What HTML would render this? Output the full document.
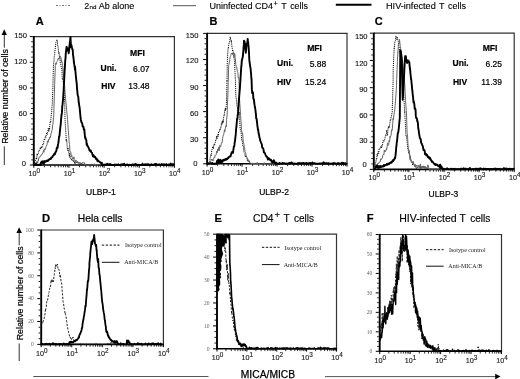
<!DOCTYPE html>
<html><head><meta charset="utf-8"><style>
html,body{margin:0;padding:0;background:#fff;}
svg{display:block;will-change:transform;filter:blur(0.3px);}
text{-webkit-font-smoothing:antialiased;}
</style></head><body>
<svg width="520" height="379" viewBox="0 0 520 379">
<rect width="520" height="379" fill="#fff"/>
<line x1="56.00" y1="5.50" x2="70.00" y2="5.50" stroke="#777" stroke-width="1" stroke-dasharray="2,1.5,1,1.5"/>
<text x="84.2" y="8.8" font-family="Liberation Sans" font-size="9" fill="#000" stroke="#000" stroke-width="0.12">2<tspan font-size="6.2" dx="0.4">nd</tspan></text>
<text x="98.80" y="8.80" font-family="Liberation Sans" font-size="9" font-weight="normal" text-anchor="start" fill="#000" stroke="#000" stroke-width="0.12" >Ab alone</text>
<line x1="173.00" y1="5.70" x2="196.00" y2="5.70" stroke="#555" stroke-width="1" />
<text x="209.5" y="8.8" font-family="Liberation Sans" font-size="9" fill="#000" stroke="#000" stroke-width="0.12">Uninfected CD4<tspan font-size="7.5" dy="-2.5" dx="0.5">+</tspan></text>
<text x="281.30" y="8.80" font-family="Liberation Sans" font-size="9" font-weight="normal" text-anchor="start" fill="#000" stroke="#000" stroke-width="0.12" >T</text>
<text x="290.20" y="8.80" font-family="Liberation Sans" font-size="8.8" font-weight="normal" text-anchor="start" fill="#000" stroke="#000" stroke-width="0.12" >cells</text>
<line x1="335.80" y1="4.80" x2="371.50" y2="4.80" stroke="#000" stroke-width="2" />
<text x="386.00" y="8.60" font-family="Liberation Sans" font-size="9.15" font-weight="normal" text-anchor="start" fill="#000" stroke="#000" stroke-width="0.12" >HIV-infected</text>
<text x="439.00" y="8.60" font-family="Liberation Sans" font-size="9" font-weight="normal" text-anchor="start" fill="#000" stroke="#000" stroke-width="0.12" >T</text>
<text x="448.00" y="8.60" font-family="Liberation Sans" font-size="9" font-weight="normal" text-anchor="start" fill="#000" stroke="#000" stroke-width="0.12" >cells</text>
<text x="35.80" y="24.70" font-family="Liberation Sans" font-size="11" font-weight="bold" text-anchor="start" fill="#000" stroke="#000" stroke-width="0.2" >A</text>
<text x="209.40" y="24.80" font-family="Liberation Sans" font-size="11" font-weight="bold" text-anchor="start" fill="#000" stroke="#000" stroke-width="0.2" >B</text>
<text x="374.80" y="25.20" font-family="Liberation Sans" font-size="11" font-weight="bold" text-anchor="start" fill="#000" stroke="#000" stroke-width="0.2" >C</text>
<line x1="33.80" y1="36.60" x2="175.00" y2="36.60" stroke="#333" stroke-width="1.2" />
<line x1="174.40" y1="36.60" x2="174.40" y2="165.00" stroke="#333" stroke-width="1.2" />
<line x1="33.80" y1="36.00" x2="33.80" y2="165.80" stroke="#000" stroke-width="1.9" />
<line x1="32.85" y1="165.00" x2="175.00" y2="165.00" stroke="#000" stroke-width="1.6" />
<line x1="29.85" y1="165.00" x2="32.85" y2="165.00" stroke="#000" stroke-width="1" />
<line x1="31.25" y1="159.86" x2="32.85" y2="159.86" stroke="#000" stroke-width="0.9" />
<line x1="31.25" y1="154.73" x2="32.85" y2="154.73" stroke="#000" stroke-width="0.9" />
<line x1="31.25" y1="149.59" x2="32.85" y2="149.59" stroke="#000" stroke-width="0.9" />
<line x1="31.25" y1="144.46" x2="32.85" y2="144.46" stroke="#000" stroke-width="0.9" />
<line x1="29.85" y1="139.32" x2="32.85" y2="139.32" stroke="#000" stroke-width="1" />
<line x1="31.25" y1="134.18" x2="32.85" y2="134.18" stroke="#000" stroke-width="0.9" />
<line x1="31.25" y1="129.05" x2="32.85" y2="129.05" stroke="#000" stroke-width="0.9" />
<line x1="31.25" y1="123.91" x2="32.85" y2="123.91" stroke="#000" stroke-width="0.9" />
<line x1="31.25" y1="118.78" x2="32.85" y2="118.78" stroke="#000" stroke-width="0.9" />
<line x1="29.85" y1="113.64" x2="32.85" y2="113.64" stroke="#000" stroke-width="1" />
<line x1="31.25" y1="108.50" x2="32.85" y2="108.50" stroke="#000" stroke-width="0.9" />
<line x1="31.25" y1="103.37" x2="32.85" y2="103.37" stroke="#000" stroke-width="0.9" />
<line x1="31.25" y1="98.23" x2="32.85" y2="98.23" stroke="#000" stroke-width="0.9" />
<line x1="31.25" y1="93.10" x2="32.85" y2="93.10" stroke="#000" stroke-width="0.9" />
<line x1="29.85" y1="87.96" x2="32.85" y2="87.96" stroke="#000" stroke-width="1" />
<line x1="31.25" y1="82.82" x2="32.85" y2="82.82" stroke="#000" stroke-width="0.9" />
<line x1="31.25" y1="77.69" x2="32.85" y2="77.69" stroke="#000" stroke-width="0.9" />
<line x1="31.25" y1="72.55" x2="32.85" y2="72.55" stroke="#000" stroke-width="0.9" />
<line x1="31.25" y1="67.42" x2="32.85" y2="67.42" stroke="#000" stroke-width="0.9" />
<line x1="29.85" y1="62.28" x2="32.85" y2="62.28" stroke="#000" stroke-width="1" />
<line x1="31.25" y1="57.14" x2="32.85" y2="57.14" stroke="#000" stroke-width="0.9" />
<line x1="31.25" y1="52.01" x2="32.85" y2="52.01" stroke="#000" stroke-width="0.9" />
<line x1="31.25" y1="46.87" x2="32.85" y2="46.87" stroke="#000" stroke-width="0.9" />
<line x1="31.25" y1="41.74" x2="32.85" y2="41.74" stroke="#000" stroke-width="0.9" />
<line x1="29.85" y1="36.60" x2="32.85" y2="36.60" stroke="#000" stroke-width="1" />
<text x="27.00" y="37.65" font-family="Liberation Sans" font-size="7.6" font-weight="normal" text-anchor="end" fill="#111" stroke="#111" stroke-width="0.12" >150</text>
<text x="27.00" y="63.95" font-family="Liberation Sans" font-size="7.6" font-weight="normal" text-anchor="end" fill="#111" stroke="#111" stroke-width="0.12" >120</text>
<text x="27.00" y="90.35" font-family="Liberation Sans" font-size="7.6" font-weight="normal" text-anchor="end" fill="#111" stroke="#111" stroke-width="0.12" >90</text>
<text x="27.00" y="116.05" font-family="Liberation Sans" font-size="7.6" font-weight="normal" text-anchor="end" fill="#111" stroke="#111" stroke-width="0.12" >60</text>
<text x="27.00" y="140.95" font-family="Liberation Sans" font-size="7.6" font-weight="normal" text-anchor="end" fill="#111" stroke="#111" stroke-width="0.12" >30</text>
<text x="26.10" y="166.35" font-family="Liberation Sans" font-size="7.6" font-weight="normal" text-anchor="end" fill="#111" stroke="#111" stroke-width="0.12" >0</text>
<line x1="33.80" y1="165.30" x2="33.80" y2="167.80" stroke="#000" stroke-width="1" />
<line x1="44.38" y1="165.30" x2="44.38" y2="167.30" stroke="#000" stroke-width="0.8" />
<line x1="50.57" y1="165.30" x2="50.57" y2="167.30" stroke="#000" stroke-width="0.8" />
<line x1="54.96" y1="165.30" x2="54.96" y2="167.30" stroke="#000" stroke-width="0.8" />
<line x1="58.37" y1="165.30" x2="58.37" y2="167.30" stroke="#000" stroke-width="0.8" />
<line x1="61.15" y1="165.30" x2="61.15" y2="167.30" stroke="#000" stroke-width="0.8" />
<line x1="63.51" y1="165.30" x2="63.51" y2="167.30" stroke="#000" stroke-width="0.8" />
<line x1="65.54" y1="165.30" x2="65.54" y2="167.30" stroke="#000" stroke-width="0.8" />
<line x1="67.34" y1="165.30" x2="67.34" y2="167.30" stroke="#000" stroke-width="0.8" />
<text x="34.30" y="175.90" font-family="Liberation Sans" font-size="7.2" text-anchor="middle" fill="#222" stroke="#222" stroke-width="0.15">10<tspan font-size="6.4" dy="-2.7">0</tspan></text>
<line x1="68.95" y1="165.30" x2="68.95" y2="167.80" stroke="#000" stroke-width="1" />
<line x1="79.53" y1="165.30" x2="79.53" y2="167.30" stroke="#000" stroke-width="0.8" />
<line x1="85.72" y1="165.30" x2="85.72" y2="167.30" stroke="#000" stroke-width="0.8" />
<line x1="90.11" y1="165.30" x2="90.11" y2="167.30" stroke="#000" stroke-width="0.8" />
<line x1="93.52" y1="165.30" x2="93.52" y2="167.30" stroke="#000" stroke-width="0.8" />
<line x1="96.30" y1="165.30" x2="96.30" y2="167.30" stroke="#000" stroke-width="0.8" />
<line x1="98.66" y1="165.30" x2="98.66" y2="167.30" stroke="#000" stroke-width="0.8" />
<line x1="100.69" y1="165.30" x2="100.69" y2="167.30" stroke="#000" stroke-width="0.8" />
<line x1="102.49" y1="165.30" x2="102.49" y2="167.30" stroke="#000" stroke-width="0.8" />
<text x="69.45" y="175.90" font-family="Liberation Sans" font-size="7.2" text-anchor="middle" fill="#222" stroke="#222" stroke-width="0.15">10<tspan font-size="6.4" dy="-2.7">1</tspan></text>
<line x1="104.10" y1="165.30" x2="104.10" y2="167.80" stroke="#000" stroke-width="1" />
<line x1="114.68" y1="165.30" x2="114.68" y2="167.30" stroke="#000" stroke-width="0.8" />
<line x1="120.87" y1="165.30" x2="120.87" y2="167.30" stroke="#000" stroke-width="0.8" />
<line x1="125.26" y1="165.30" x2="125.26" y2="167.30" stroke="#000" stroke-width="0.8" />
<line x1="128.67" y1="165.30" x2="128.67" y2="167.30" stroke="#000" stroke-width="0.8" />
<line x1="131.45" y1="165.30" x2="131.45" y2="167.30" stroke="#000" stroke-width="0.8" />
<line x1="133.81" y1="165.30" x2="133.81" y2="167.30" stroke="#000" stroke-width="0.8" />
<line x1="135.84" y1="165.30" x2="135.84" y2="167.30" stroke="#000" stroke-width="0.8" />
<line x1="137.64" y1="165.30" x2="137.64" y2="167.30" stroke="#000" stroke-width="0.8" />
<text x="104.60" y="175.90" font-family="Liberation Sans" font-size="7.2" text-anchor="middle" fill="#222" stroke="#222" stroke-width="0.15">10<tspan font-size="6.4" dy="-2.7">2</tspan></text>
<line x1="139.25" y1="165.30" x2="139.25" y2="167.80" stroke="#000" stroke-width="1" />
<line x1="149.83" y1="165.30" x2="149.83" y2="167.30" stroke="#000" stroke-width="0.8" />
<line x1="156.02" y1="165.30" x2="156.02" y2="167.30" stroke="#000" stroke-width="0.8" />
<line x1="160.41" y1="165.30" x2="160.41" y2="167.30" stroke="#000" stroke-width="0.8" />
<line x1="163.82" y1="165.30" x2="163.82" y2="167.30" stroke="#000" stroke-width="0.8" />
<line x1="166.60" y1="165.30" x2="166.60" y2="167.30" stroke="#000" stroke-width="0.8" />
<line x1="168.96" y1="165.30" x2="168.96" y2="167.30" stroke="#000" stroke-width="0.8" />
<line x1="170.99" y1="165.30" x2="170.99" y2="167.30" stroke="#000" stroke-width="0.8" />
<line x1="172.79" y1="165.30" x2="172.79" y2="167.30" stroke="#000" stroke-width="0.8" />
<text x="139.75" y="175.90" font-family="Liberation Sans" font-size="7.2" text-anchor="middle" fill="#222" stroke="#222" stroke-width="0.15">10<tspan font-size="6.4" dy="-2.7">3</tspan></text>
<line x1="174.40" y1="165.30" x2="174.40" y2="167.80" stroke="#000" stroke-width="1" />
<text x="174.90" y="175.90" font-family="Liberation Sans" font-size="7.2" text-anchor="middle" fill="#222" stroke="#222" stroke-width="0.15">10<tspan font-size="6.4" dy="-2.7">4</tspan></text>
<line x1="207.10" y1="33.40" x2="347.60" y2="33.40" stroke="#333" stroke-width="1.2" />
<line x1="347.00" y1="33.40" x2="347.00" y2="163.80" stroke="#333" stroke-width="1.2" />
<line x1="207.10" y1="32.80" x2="207.10" y2="164.60" stroke="#000" stroke-width="1.9" />
<line x1="206.15" y1="163.80" x2="347.60" y2="163.80" stroke="#000" stroke-width="1.6" />
<line x1="203.15" y1="163.80" x2="206.15" y2="163.80" stroke="#000" stroke-width="1" />
<line x1="204.55" y1="158.58" x2="206.15" y2="158.58" stroke="#000" stroke-width="0.9" />
<line x1="204.55" y1="153.37" x2="206.15" y2="153.37" stroke="#000" stroke-width="0.9" />
<line x1="204.55" y1="148.15" x2="206.15" y2="148.15" stroke="#000" stroke-width="0.9" />
<line x1="204.55" y1="142.94" x2="206.15" y2="142.94" stroke="#000" stroke-width="0.9" />
<line x1="203.15" y1="137.72" x2="206.15" y2="137.72" stroke="#000" stroke-width="1" />
<line x1="204.55" y1="132.50" x2="206.15" y2="132.50" stroke="#000" stroke-width="0.9" />
<line x1="204.55" y1="127.29" x2="206.15" y2="127.29" stroke="#000" stroke-width="0.9" />
<line x1="204.55" y1="122.07" x2="206.15" y2="122.07" stroke="#000" stroke-width="0.9" />
<line x1="204.55" y1="116.86" x2="206.15" y2="116.86" stroke="#000" stroke-width="0.9" />
<line x1="203.15" y1="111.64" x2="206.15" y2="111.64" stroke="#000" stroke-width="1" />
<line x1="204.55" y1="106.42" x2="206.15" y2="106.42" stroke="#000" stroke-width="0.9" />
<line x1="204.55" y1="101.21" x2="206.15" y2="101.21" stroke="#000" stroke-width="0.9" />
<line x1="204.55" y1="95.99" x2="206.15" y2="95.99" stroke="#000" stroke-width="0.9" />
<line x1="204.55" y1="90.78" x2="206.15" y2="90.78" stroke="#000" stroke-width="0.9" />
<line x1="203.15" y1="85.56" x2="206.15" y2="85.56" stroke="#000" stroke-width="1" />
<line x1="204.55" y1="80.34" x2="206.15" y2="80.34" stroke="#000" stroke-width="0.9" />
<line x1="204.55" y1="75.13" x2="206.15" y2="75.13" stroke="#000" stroke-width="0.9" />
<line x1="204.55" y1="69.91" x2="206.15" y2="69.91" stroke="#000" stroke-width="0.9" />
<line x1="204.55" y1="64.70" x2="206.15" y2="64.70" stroke="#000" stroke-width="0.9" />
<line x1="203.15" y1="59.48" x2="206.15" y2="59.48" stroke="#000" stroke-width="1" />
<line x1="204.55" y1="54.26" x2="206.15" y2="54.26" stroke="#000" stroke-width="0.9" />
<line x1="204.55" y1="49.05" x2="206.15" y2="49.05" stroke="#000" stroke-width="0.9" />
<line x1="204.55" y1="43.83" x2="206.15" y2="43.83" stroke="#000" stroke-width="0.9" />
<line x1="204.55" y1="38.62" x2="206.15" y2="38.62" stroke="#000" stroke-width="0.9" />
<line x1="203.15" y1="33.40" x2="206.15" y2="33.40" stroke="#000" stroke-width="1" />
<text x="198.50" y="37.95" font-family="Liberation Sans" font-size="7.6" font-weight="normal" text-anchor="end" fill="#111" stroke="#111" stroke-width="0.12" >150</text>
<text x="198.50" y="63.25" font-family="Liberation Sans" font-size="7.6" font-weight="normal" text-anchor="end" fill="#111" stroke="#111" stroke-width="0.12" >120</text>
<text x="198.50" y="90.05" font-family="Liberation Sans" font-size="7.6" font-weight="normal" text-anchor="end" fill="#111" stroke="#111" stroke-width="0.12" >90</text>
<text x="198.50" y="116.35" font-family="Liberation Sans" font-size="7.6" font-weight="normal" text-anchor="end" fill="#111" stroke="#111" stroke-width="0.12" >60</text>
<text x="198.50" y="142.05" font-family="Liberation Sans" font-size="7.6" font-weight="normal" text-anchor="end" fill="#111" stroke="#111" stroke-width="0.12" >30</text>
<text x="197.60" y="166.35" font-family="Liberation Sans" font-size="7.6" font-weight="normal" text-anchor="end" fill="#111" stroke="#111" stroke-width="0.12" >0</text>
<line x1="207.10" y1="164.10" x2="207.10" y2="166.60" stroke="#000" stroke-width="1" />
<line x1="217.63" y1="164.10" x2="217.63" y2="166.10" stroke="#000" stroke-width="0.8" />
<line x1="223.79" y1="164.10" x2="223.79" y2="166.10" stroke="#000" stroke-width="0.8" />
<line x1="228.16" y1="164.10" x2="228.16" y2="166.10" stroke="#000" stroke-width="0.8" />
<line x1="231.55" y1="164.10" x2="231.55" y2="166.10" stroke="#000" stroke-width="0.8" />
<line x1="234.32" y1="164.10" x2="234.32" y2="166.10" stroke="#000" stroke-width="0.8" />
<line x1="236.66" y1="164.10" x2="236.66" y2="166.10" stroke="#000" stroke-width="0.8" />
<line x1="238.69" y1="164.10" x2="238.69" y2="166.10" stroke="#000" stroke-width="0.8" />
<line x1="240.47" y1="164.10" x2="240.47" y2="166.10" stroke="#000" stroke-width="0.8" />
<text x="207.60" y="175.00" font-family="Liberation Sans" font-size="7.2" text-anchor="middle" fill="#222" stroke="#222" stroke-width="0.15">10<tspan font-size="6.4" dy="-2.7">0</tspan></text>
<line x1="242.07" y1="164.10" x2="242.07" y2="166.60" stroke="#000" stroke-width="1" />
<line x1="252.60" y1="164.10" x2="252.60" y2="166.10" stroke="#000" stroke-width="0.8" />
<line x1="258.76" y1="164.10" x2="258.76" y2="166.10" stroke="#000" stroke-width="0.8" />
<line x1="263.13" y1="164.10" x2="263.13" y2="166.10" stroke="#000" stroke-width="0.8" />
<line x1="266.52" y1="164.10" x2="266.52" y2="166.10" stroke="#000" stroke-width="0.8" />
<line x1="269.29" y1="164.10" x2="269.29" y2="166.10" stroke="#000" stroke-width="0.8" />
<line x1="271.63" y1="164.10" x2="271.63" y2="166.10" stroke="#000" stroke-width="0.8" />
<line x1="273.66" y1="164.10" x2="273.66" y2="166.10" stroke="#000" stroke-width="0.8" />
<line x1="275.45" y1="164.10" x2="275.45" y2="166.10" stroke="#000" stroke-width="0.8" />
<text x="242.57" y="175.00" font-family="Liberation Sans" font-size="7.2" text-anchor="middle" fill="#222" stroke="#222" stroke-width="0.15">10<tspan font-size="6.4" dy="-2.7">1</tspan></text>
<line x1="277.05" y1="164.10" x2="277.05" y2="166.60" stroke="#000" stroke-width="1" />
<line x1="287.58" y1="164.10" x2="287.58" y2="166.10" stroke="#000" stroke-width="0.8" />
<line x1="293.74" y1="164.10" x2="293.74" y2="166.10" stroke="#000" stroke-width="0.8" />
<line x1="298.11" y1="164.10" x2="298.11" y2="166.10" stroke="#000" stroke-width="0.8" />
<line x1="301.50" y1="164.10" x2="301.50" y2="166.10" stroke="#000" stroke-width="0.8" />
<line x1="304.27" y1="164.10" x2="304.27" y2="166.10" stroke="#000" stroke-width="0.8" />
<line x1="306.61" y1="164.10" x2="306.61" y2="166.10" stroke="#000" stroke-width="0.8" />
<line x1="308.64" y1="164.10" x2="308.64" y2="166.10" stroke="#000" stroke-width="0.8" />
<line x1="310.42" y1="164.10" x2="310.42" y2="166.10" stroke="#000" stroke-width="0.8" />
<text x="277.55" y="175.00" font-family="Liberation Sans" font-size="7.2" text-anchor="middle" fill="#222" stroke="#222" stroke-width="0.15">10<tspan font-size="6.4" dy="-2.7">2</tspan></text>
<line x1="312.02" y1="164.10" x2="312.02" y2="166.60" stroke="#000" stroke-width="1" />
<line x1="322.55" y1="164.10" x2="322.55" y2="166.10" stroke="#000" stroke-width="0.8" />
<line x1="328.71" y1="164.10" x2="328.71" y2="166.10" stroke="#000" stroke-width="0.8" />
<line x1="333.08" y1="164.10" x2="333.08" y2="166.10" stroke="#000" stroke-width="0.8" />
<line x1="336.47" y1="164.10" x2="336.47" y2="166.10" stroke="#000" stroke-width="0.8" />
<line x1="339.24" y1="164.10" x2="339.24" y2="166.10" stroke="#000" stroke-width="0.8" />
<line x1="341.58" y1="164.10" x2="341.58" y2="166.10" stroke="#000" stroke-width="0.8" />
<line x1="343.61" y1="164.10" x2="343.61" y2="166.10" stroke="#000" stroke-width="0.8" />
<line x1="345.40" y1="164.10" x2="345.40" y2="166.10" stroke="#000" stroke-width="0.8" />
<text x="312.52" y="175.00" font-family="Liberation Sans" font-size="7.2" text-anchor="middle" fill="#222" stroke="#222" stroke-width="0.15">10<tspan font-size="6.4" dy="-2.7">3</tspan></text>
<line x1="347.00" y1="164.10" x2="347.00" y2="166.60" stroke="#000" stroke-width="1" />
<text x="347.50" y="175.00" font-family="Liberation Sans" font-size="7.2" text-anchor="middle" fill="#222" stroke="#222" stroke-width="0.15">10<tspan font-size="6.4" dy="-2.7">4</tspan></text>
<line x1="373.80" y1="33.20" x2="514.80" y2="33.20" stroke="#333" stroke-width="1.2" />
<line x1="514.20" y1="33.20" x2="514.20" y2="169.40" stroke="#333" stroke-width="1.2" />
<line x1="373.80" y1="32.60" x2="373.80" y2="170.20" stroke="#000" stroke-width="1.9" />
<line x1="372.85" y1="169.40" x2="514.80" y2="169.40" stroke="#000" stroke-width="1.6" />
<line x1="369.85" y1="169.40" x2="372.85" y2="169.40" stroke="#000" stroke-width="1" />
<line x1="371.25" y1="163.95" x2="372.85" y2="163.95" stroke="#000" stroke-width="0.9" />
<line x1="371.25" y1="158.50" x2="372.85" y2="158.50" stroke="#000" stroke-width="0.9" />
<line x1="371.25" y1="153.06" x2="372.85" y2="153.06" stroke="#000" stroke-width="0.9" />
<line x1="371.25" y1="147.61" x2="372.85" y2="147.61" stroke="#000" stroke-width="0.9" />
<line x1="369.85" y1="142.16" x2="372.85" y2="142.16" stroke="#000" stroke-width="1" />
<line x1="371.25" y1="136.71" x2="372.85" y2="136.71" stroke="#000" stroke-width="0.9" />
<line x1="371.25" y1="131.26" x2="372.85" y2="131.26" stroke="#000" stroke-width="0.9" />
<line x1="371.25" y1="125.82" x2="372.85" y2="125.82" stroke="#000" stroke-width="0.9" />
<line x1="371.25" y1="120.37" x2="372.85" y2="120.37" stroke="#000" stroke-width="0.9" />
<line x1="369.85" y1="114.92" x2="372.85" y2="114.92" stroke="#000" stroke-width="1" />
<line x1="371.25" y1="109.47" x2="372.85" y2="109.47" stroke="#000" stroke-width="0.9" />
<line x1="371.25" y1="104.02" x2="372.85" y2="104.02" stroke="#000" stroke-width="0.9" />
<line x1="371.25" y1="98.58" x2="372.85" y2="98.58" stroke="#000" stroke-width="0.9" />
<line x1="371.25" y1="93.13" x2="372.85" y2="93.13" stroke="#000" stroke-width="0.9" />
<line x1="369.85" y1="87.68" x2="372.85" y2="87.68" stroke="#000" stroke-width="1" />
<line x1="371.25" y1="82.23" x2="372.85" y2="82.23" stroke="#000" stroke-width="0.9" />
<line x1="371.25" y1="76.78" x2="372.85" y2="76.78" stroke="#000" stroke-width="0.9" />
<line x1="371.25" y1="71.34" x2="372.85" y2="71.34" stroke="#000" stroke-width="0.9" />
<line x1="371.25" y1="65.89" x2="372.85" y2="65.89" stroke="#000" stroke-width="0.9" />
<line x1="369.85" y1="60.44" x2="372.85" y2="60.44" stroke="#000" stroke-width="1" />
<line x1="371.25" y1="54.99" x2="372.85" y2="54.99" stroke="#000" stroke-width="0.9" />
<line x1="371.25" y1="49.54" x2="372.85" y2="49.54" stroke="#000" stroke-width="0.9" />
<line x1="371.25" y1="44.10" x2="372.85" y2="44.10" stroke="#000" stroke-width="0.9" />
<line x1="371.25" y1="38.65" x2="372.85" y2="38.65" stroke="#000" stroke-width="0.9" />
<line x1="369.85" y1="33.20" x2="372.85" y2="33.20" stroke="#000" stroke-width="1" />
<text x="367.60" y="39.25" font-family="Liberation Sans" font-size="7.6" font-weight="normal" text-anchor="end" fill="#111" stroke="#111" stroke-width="0.12" >150</text>
<text x="367.60" y="66.05" font-family="Liberation Sans" font-size="7.6" font-weight="normal" text-anchor="end" fill="#111" stroke="#111" stroke-width="0.12" >120</text>
<text x="367.60" y="91.55" font-family="Liberation Sans" font-size="7.6" font-weight="normal" text-anchor="end" fill="#111" stroke="#111" stroke-width="0.12" >90</text>
<text x="367.60" y="117.75" font-family="Liberation Sans" font-size="7.6" font-weight="normal" text-anchor="end" fill="#111" stroke="#111" stroke-width="0.12" >60</text>
<text x="367.60" y="143.15" font-family="Liberation Sans" font-size="7.6" font-weight="normal" text-anchor="end" fill="#111" stroke="#111" stroke-width="0.12" >30</text>
<text x="366.70" y="167.35" font-family="Liberation Sans" font-size="7.6" font-weight="normal" text-anchor="end" fill="#111" stroke="#111" stroke-width="0.12" >0</text>
<line x1="373.80" y1="169.70" x2="373.80" y2="172.20" stroke="#000" stroke-width="1" />
<line x1="384.37" y1="169.70" x2="384.37" y2="171.70" stroke="#000" stroke-width="0.8" />
<line x1="390.55" y1="169.70" x2="390.55" y2="171.70" stroke="#000" stroke-width="0.8" />
<line x1="394.93" y1="169.70" x2="394.93" y2="171.70" stroke="#000" stroke-width="0.8" />
<line x1="398.33" y1="169.70" x2="398.33" y2="171.70" stroke="#000" stroke-width="0.8" />
<line x1="401.11" y1="169.70" x2="401.11" y2="171.70" stroke="#000" stroke-width="0.8" />
<line x1="403.46" y1="169.70" x2="403.46" y2="171.70" stroke="#000" stroke-width="0.8" />
<line x1="405.50" y1="169.70" x2="405.50" y2="171.70" stroke="#000" stroke-width="0.8" />
<line x1="407.29" y1="169.70" x2="407.29" y2="171.70" stroke="#000" stroke-width="0.8" />
<text x="374.30" y="180.00" font-family="Liberation Sans" font-size="7.2" text-anchor="middle" fill="#222" stroke="#222" stroke-width="0.15">10<tspan font-size="6.4" dy="-2.7">0</tspan></text>
<line x1="408.90" y1="169.70" x2="408.90" y2="172.20" stroke="#000" stroke-width="1" />
<line x1="419.47" y1="169.70" x2="419.47" y2="171.70" stroke="#000" stroke-width="0.8" />
<line x1="425.65" y1="169.70" x2="425.65" y2="171.70" stroke="#000" stroke-width="0.8" />
<line x1="430.03" y1="169.70" x2="430.03" y2="171.70" stroke="#000" stroke-width="0.8" />
<line x1="433.43" y1="169.70" x2="433.43" y2="171.70" stroke="#000" stroke-width="0.8" />
<line x1="436.21" y1="169.70" x2="436.21" y2="171.70" stroke="#000" stroke-width="0.8" />
<line x1="438.56" y1="169.70" x2="438.56" y2="171.70" stroke="#000" stroke-width="0.8" />
<line x1="440.60" y1="169.70" x2="440.60" y2="171.70" stroke="#000" stroke-width="0.8" />
<line x1="442.39" y1="169.70" x2="442.39" y2="171.70" stroke="#000" stroke-width="0.8" />
<text x="409.40" y="180.00" font-family="Liberation Sans" font-size="7.2" text-anchor="middle" fill="#222" stroke="#222" stroke-width="0.15">10<tspan font-size="6.4" dy="-2.7">1</tspan></text>
<line x1="444.00" y1="169.70" x2="444.00" y2="172.20" stroke="#000" stroke-width="1" />
<line x1="454.57" y1="169.70" x2="454.57" y2="171.70" stroke="#000" stroke-width="0.8" />
<line x1="460.75" y1="169.70" x2="460.75" y2="171.70" stroke="#000" stroke-width="0.8" />
<line x1="465.13" y1="169.70" x2="465.13" y2="171.70" stroke="#000" stroke-width="0.8" />
<line x1="468.53" y1="169.70" x2="468.53" y2="171.70" stroke="#000" stroke-width="0.8" />
<line x1="471.31" y1="169.70" x2="471.31" y2="171.70" stroke="#000" stroke-width="0.8" />
<line x1="473.66" y1="169.70" x2="473.66" y2="171.70" stroke="#000" stroke-width="0.8" />
<line x1="475.70" y1="169.70" x2="475.70" y2="171.70" stroke="#000" stroke-width="0.8" />
<line x1="477.49" y1="169.70" x2="477.49" y2="171.70" stroke="#000" stroke-width="0.8" />
<text x="444.50" y="180.00" font-family="Liberation Sans" font-size="7.2" text-anchor="middle" fill="#222" stroke="#222" stroke-width="0.15">10<tspan font-size="6.4" dy="-2.7">2</tspan></text>
<line x1="479.10" y1="169.70" x2="479.10" y2="172.20" stroke="#000" stroke-width="1" />
<line x1="489.67" y1="169.70" x2="489.67" y2="171.70" stroke="#000" stroke-width="0.8" />
<line x1="495.85" y1="169.70" x2="495.85" y2="171.70" stroke="#000" stroke-width="0.8" />
<line x1="500.23" y1="169.70" x2="500.23" y2="171.70" stroke="#000" stroke-width="0.8" />
<line x1="503.63" y1="169.70" x2="503.63" y2="171.70" stroke="#000" stroke-width="0.8" />
<line x1="506.41" y1="169.70" x2="506.41" y2="171.70" stroke="#000" stroke-width="0.8" />
<line x1="508.76" y1="169.70" x2="508.76" y2="171.70" stroke="#000" stroke-width="0.8" />
<line x1="510.80" y1="169.70" x2="510.80" y2="171.70" stroke="#000" stroke-width="0.8" />
<line x1="512.59" y1="169.70" x2="512.59" y2="171.70" stroke="#000" stroke-width="0.8" />
<text x="479.60" y="180.00" font-family="Liberation Sans" font-size="7.2" text-anchor="middle" fill="#222" stroke="#222" stroke-width="0.15">10<tspan font-size="6.4" dy="-2.7">3</tspan></text>
<line x1="514.20" y1="169.70" x2="514.20" y2="172.20" stroke="#000" stroke-width="1" />
<text x="514.70" y="180.00" font-family="Liberation Sans" font-size="7.2" text-anchor="middle" fill="#222" stroke="#222" stroke-width="0.15">10<tspan font-size="6.4" dy="-2.7">4</tspan></text>
<text x="130.10" y="55.50" font-family="Liberation Sans" font-size="8.6" font-weight="bold" text-anchor="start" fill="#000" stroke="#000" stroke-width="0.2" >MFI</text>
<text x="100.50" y="70.90" font-family="Liberation Sans" font-size="8.5" font-weight="bold" text-anchor="start" fill="#000" stroke="#000" stroke-width="0.2" >Uni.</text>
<text x="149.60" y="71.70" font-family="Liberation Sans" font-size="8.5" font-weight="normal" text-anchor="end" fill="#000" stroke="#000" stroke-width="0.2" >6.07</text>
<text x="101.30" y="88.80" font-family="Liberation Sans" font-size="8.5" font-weight="bold" text-anchor="start" fill="#000" stroke="#000" stroke-width="0.2" >HIV</text>
<text x="149.60" y="88.80" font-family="Liberation Sans" font-size="8.5" font-weight="normal" text-anchor="end" fill="#000" stroke="#000" stroke-width="0.2" >13.48</text>
<text x="307.20" y="51.00" font-family="Liberation Sans" font-size="8.6" font-weight="bold" text-anchor="start" fill="#000" stroke="#000" stroke-width="0.2" >MFI</text>
<text x="277.10" y="66.40" font-family="Liberation Sans" font-size="8.5" font-weight="bold" text-anchor="start" fill="#000" stroke="#000" stroke-width="0.2" >Uni.</text>
<text x="326.20" y="67.10" font-family="Liberation Sans" font-size="8.5" font-weight="normal" text-anchor="end" fill="#000" stroke="#000" stroke-width="0.2" >5.88</text>
<text x="277.10" y="84.50" font-family="Liberation Sans" font-size="8.5" font-weight="bold" text-anchor="start" fill="#000" stroke="#000" stroke-width="0.2" >HIV</text>
<text x="326.20" y="84.50" font-family="Liberation Sans" font-size="8.5" font-weight="normal" text-anchor="end" fill="#000" stroke="#000" stroke-width="0.2" >15.24</text>
<text x="482.70" y="51.00" font-family="Liberation Sans" font-size="8.6" font-weight="bold" text-anchor="start" fill="#000" stroke="#000" stroke-width="0.2" >MFI</text>
<text x="452.60" y="66.40" font-family="Liberation Sans" font-size="8.5" font-weight="bold" text-anchor="start" fill="#000" stroke="#000" stroke-width="0.2" >Uni.</text>
<text x="502.00" y="67.10" font-family="Liberation Sans" font-size="8.5" font-weight="normal" text-anchor="end" fill="#000" stroke="#000" stroke-width="0.2" >6.25</text>
<text x="452.90" y="84.90" font-family="Liberation Sans" font-size="8.5" font-weight="bold" text-anchor="start" fill="#000" stroke="#000" stroke-width="0.2" >HIV</text>
<text x="502.00" y="84.90" font-family="Liberation Sans" font-size="8.5" font-weight="normal" text-anchor="end" fill="#000" stroke="#000" stroke-width="0.2" >11.39</text>
<text x="86.00" y="194.60" font-family="Liberation Sans" font-size="8.5" font-weight="normal" text-anchor="start" fill="#000" stroke="#000" stroke-width="0.2" >ULBP-1</text>
<text x="259.20" y="194.70" font-family="Liberation Sans" font-size="8.5" font-weight="normal" text-anchor="start" fill="#000" stroke="#000" stroke-width="0.2" >ULBP-2</text>
<text x="428.50" y="196.80" font-family="Liberation Sans" font-size="8.5" font-weight="normal" text-anchor="start" fill="#000" stroke="#000" stroke-width="0.2" >ULBP-3</text>
<g transform="translate(8.4,143.8) rotate(-90)"><text x="0" y="0" font-family="Liberation Sans" font-size="8.9" fill="#000" stroke="#000" stroke-width="0.2">Relative number of cells</text></g>
<line x1="4.30" y1="146.30" x2="4.30" y2="165.00" stroke="#333" stroke-width="1" />
<line x1="4.30" y1="35.00" x2="4.30" y2="47.70" stroke="#333" stroke-width="1" />
<polygon points="4.2,29.2 1.6,35 6.9,35" fill="#000"/>
<polyline points="33.5,165.0 33.9,164.2 34.3,162.0 34.7,163.0 35.1,162.2 35.2,162.0 35.5,160.3 35.9,159.7 36.3,157.5 36.7,159.4 37.1,153.9 37.3,155.3 37.5,154.0 37.9,154.1 38.3,153.6 38.7,151.5 39.1,150.1 39.5,150.6 39.9,149.6 40.3,147.5 40.7,148.9 41.1,149.0 41.1,146.5 41.5,146.9 41.9,148.1 42.3,145.6 42.7,144.2 43.1,144.6 43.5,144.3 43.9,141.0 44.3,138.7 44.7,139.8 44.9,139.4 45.1,137.9 45.5,136.3 45.9,137.2 46.3,134.7 46.7,132.8 47.1,134.2 47.5,134.3 47.6,132.4 47.9,131.2 48.3,128.3 48.7,131.6 49.1,129.1 49.3,127.7 49.5,129.7 49.9,124.1 50.3,121.3 50.7,122.0 50.8,119.4 51.1,116.2 51.5,112.9 51.7,111.8 51.9,107.2 52.3,103.6 52.4,99.7 52.7,91.6 52.8,90.8 53.1,78.0 53.4,67.1 53.5,64.7 53.9,61.8 54.0,60.0 54.3,56.5 54.7,54.3 54.8,51.7 55.1,49.8 55.5,45.9 55.7,45.2 55.9,42.5 56.3,41.4 56.7,40.7 56.8,39.7 57.1,40.1 57.5,41.8 57.6,45.7 57.9,45.7 58.3,49.0 58.5,51.0 58.7,53.4 59.1,52.2 59.5,57.7 59.8,57.2 59.9,56.2 60.3,63.1 60.7,64.1 60.9,65.6 61.1,66.3 61.5,67.7 61.9,70.2 62.3,78.9 62.5,78.2 62.7,78.6 63.1,80.5 63.5,85.4 63.9,90.3 64.0,89.9 64.3,95.6 64.7,103.4 64.8,105.3 65.0,119.8 65.1,120.8 65.5,127.5 65.9,133.6 66.3,141.2 66.3,139.3 66.7,140.1 67.1,145.5 67.5,150.4 67.6,148.4 67.9,149.2 68.3,148.4 68.7,152.6 69.1,154.7 69.5,157.3 69.5,154.9 69.9,153.0 70.3,158.0 70.7,158.6 71.1,158.0 71.5,160.4 71.9,160.6 72.0,160.6 72.3,160.5 72.7,159.7 73.1,161.1 73.5,160.4 73.9,162.0 74.3,161.5 74.7,164.1 75.1,163.6 75.5,161.7 75.9,163.2 76.3,162.4 76.5,162.9 76.7,161.8 77.1,162.3 77.5,162.1 77.9,163.2 78.3,163.7 78.7,163.8 79.1,163.6 79.5,164.2 79.9,163.7 80.3,163.3 80.7,164.8 81.1,165.0 81.5,165.0 81.9,165.0 82.3,164.9 82.7,164.3 83.1,164.7 83.5,165.0 83.9,165.0 84.3,163.8 84.7,164.5 85.1,163.9 85.5,163.7 85.9,165.0 86.3,164.8 86.7,164.7 87.1,164.7 87.5,164.7 87.9,164.9 88.3,164.9 88.7,165.0 89.1,165.0 89.5,165.0 89.9,164.9 90.0,165.0 90.3,164.6 90.7,164.5 91.1,164.8 91.5,164.8 91.9,164.9 92.3,165.0 92.7,165.0 93.1,165.0 93.5,164.8 93.9,165.0 94.3,164.7 94.7,165.0 95.1,164.5 95.5,165.0 95.9,165.0 96.3,165.0 96.7,165.0 97.1,164.8 97.5,165.0 97.9,165.0 98.3,165.0 98.7,164.2 99.1,165.0 99.5,165.0 99.9,165.0 100.3,165.0 100.7,163.9 101.1,165.0 101.5,164.7 101.9,164.7 102.3,165.0 102.7,164.8 103.1,164.4 103.5,164.7 103.9,164.8 104.0,164.8 104.3,164.9 104.7,164.8 105.1,165.0 105.5,164.6 105.9,165.0 106.3,164.5 106.7,165.0 107.1,165.0 107.5,164.8 107.9,164.0 108.3,164.4 108.7,165.0 109.1,164.6 109.5,165.0 109.9,165.0 110.3,164.9 110.7,165.0 111.1,164.9 111.5,165.0 111.9,165.0 112.3,165.0 112.7,165.0 113.1,165.0 113.5,164.5 113.9,164.0 114.3,165.0 114.7,164.3 115.1,165.0 115.5,165.0 115.9,164.9 116.3,164.7 116.7,165.0 117.1,164.8 117.5,164.7 117.9,165.0 118.3,165.0 118.7,165.0 119.1,165.0 119.5,165.0 119.9,164.4 120.3,164.0 120.7,165.0 121.1,164.6 121.5,164.4 121.9,164.6 122.3,164.4 122.7,165.0 123.1,164.6 123.5,163.8 123.9,164.5 124.3,165.0 124.7,164.6 125.1,164.2 125.5,164.8 125.9,165.0 126.3,164.1 126.7,165.0 127.1,164.7 127.5,165.0 127.9,165.0 128.3,164.3 128.7,164.8 129.1,165.0 129.5,164.6 129.9,165.0 130.3,165.0 130.7,165.0 131.1,164.8 131.5,164.6 131.9,164.9 132.3,165.0 132.7,164.7 133.1,165.0 133.5,164.3 133.9,164.9 134.3,164.8 134.7,164.7 135.1,165.0 135.5,165.0 135.9,164.1 136.3,164.8 136.7,165.0 137.1,164.8 137.5,165.0 137.9,164.8 138.3,165.0 138.7,164.8 139.1,165.0 139.5,164.2 139.9,165.0 140.3,165.0 140.7,165.0 141.1,165.0 141.5,164.9 141.9,165.0 142.3,164.8 142.7,162.8 143.1,165.0 143.5,164.8 143.9,165.0 144.3,164.9 144.7,165.0 145.1,165.0 145.5,164.7 145.9,165.0 146.3,164.0 146.7,165.0 147.1,164.9 147.5,163.3 147.9,165.0 148.3,165.0 148.7,165.0 149.1,165.0 149.5,164.5 149.9,164.9 150.3,165.0 150.7,164.9 151.1,163.4 151.5,164.2 151.9,165.0 152.3,165.0 152.7,165.0 153.1,164.6 153.5,165.0 153.9,163.8 154.3,164.4 154.7,164.5 155.1,164.9 155.5,165.0 155.9,164.8 156.3,164.2 156.7,164.7 157.1,165.0 157.5,164.2 157.9,164.9 158.3,165.0 158.7,165.0 159.1,165.0 159.5,165.0 159.9,165.0 160.3,164.4 160.7,164.7 161.1,165.0 161.5,164.4 161.9,164.7 162.3,164.8 162.7,165.0 163.1,165.0 163.5,164.7 163.9,164.0 164.3,163.9 164.7,164.1 165.1,165.0 165.5,165.0 165.9,164.7 166.3,165.0 166.7,164.4 167.1,165.0 167.5,164.9 167.9,165.0 168.3,164.7 168.7,165.0 169.1,164.8 169.5,164.7 169.9,165.0 170.3,164.8 170.7,165.0 171.1,164.5 171.5,164.7 171.9,165.0 172.3,165.0 172.7,164.0 173.1,165.0 173.5,164.4 173.9,164.8 174.0,165.0" fill="none" stroke="#111" stroke-width="1" stroke-linejoin="round" stroke-dasharray="1.2,0.9"/>
<polyline points="33.5,165.0 33.9,164.4 34.3,164.6 34.7,164.6 35.1,164.0 35.5,165.0 35.5,165.0 35.9,164.3 36.3,162.9 36.7,161.6 37.1,162.2 37.3,161.9 37.5,163.2 37.9,160.8 38.3,161.1 38.7,157.9 39.1,158.0 39.5,157.2 39.9,157.5 40.3,156.1 40.7,155.4 41.1,155.7 41.5,155.2 41.7,154.3 41.9,154.6 42.3,153.9 42.7,152.9 43.1,152.7 43.5,150.2 43.9,152.3 44.3,148.7 44.7,149.8 45.1,149.0 45.5,149.3 45.9,147.1 46.0,146.8 46.3,145.8 46.7,145.8 47.1,144.1 47.5,140.8 47.9,141.8 48.3,142.2 48.7,139.2 49.1,139.8 49.5,137.9 49.9,136.9 50.3,137.5 50.3,137.7 50.7,135.9 51.1,133.0 51.5,132.9 51.9,130.1 52.0,129.9 52.3,129.6 52.7,124.6 53.0,124.2 53.1,122.0 53.5,117.4 53.8,114.6 53.9,108.6 54.2,99.9 54.3,96.2 54.6,84.8 54.7,83.2 55.1,72.5 55.3,65.3 55.5,64.1 55.9,62.9 56.3,64.3 56.5,62.7 56.7,62.1 57.1,61.5 57.5,60.9 57.7,60.4 57.9,58.8 58.3,59.1 58.7,57.9 59.0,58.4 59.1,59.3 59.5,57.3 59.9,56.5 60.3,56.2 60.3,56.8 60.7,57.1 61.1,58.1 61.5,62.1 61.5,60.3 61.9,61.7 62.3,63.7 62.4,65.5 62.7,66.4 63.1,71.9 63.5,75.3 63.5,74.9 63.9,78.3 64.3,85.1 64.7,86.5 64.8,88.7 65.1,93.1 65.5,97.2 65.6,98.8 65.9,102.1 66.3,105.7 66.4,107.2 66.7,110.6 67.1,114.8 67.5,118.9 67.6,119.6 67.9,124.4 68.3,130.6 68.7,135.3 68.9,138.1 69.1,141.6 69.5,144.6 69.9,151.4 70.1,151.1 70.3,151.4 70.7,151.7 71.1,154.3 71.5,156.5 71.9,155.5 72.0,156.5 72.3,158.0 72.7,159.1 73.1,157.8 73.5,158.9 73.9,156.9 74.3,160.4 74.7,160.9 75.1,161.1 75.2,161.5 75.5,162.0 75.9,160.0 76.3,161.6 76.7,162.2 77.1,162.9 77.5,161.5 77.9,161.5 78.3,162.0 78.7,162.8 79.1,162.3 79.5,162.4 79.9,163.4 80.3,162.5 80.3,163.5 80.7,164.1 81.1,163.3 81.5,163.1 81.9,164.1 82.3,162.8 82.7,162.2 83.1,162.7 83.5,163.0 83.9,162.5 84.3,162.8 84.7,165.0 85.1,165.0 85.5,164.2 85.9,165.0 86.3,165.0 86.7,165.0 87.1,165.0 87.5,165.0 87.9,164.9 88.3,164.8 88.7,164.8 89.1,165.0 89.5,165.0 89.9,164.8 90.3,164.4 90.7,164.6 91.1,164.5 91.5,164.3 91.9,164.5 92.3,165.0 92.7,165.0 93.1,165.0 93.5,165.0 93.9,165.0 94.3,163.7 94.7,165.0 95.1,165.0 95.5,165.0 95.9,164.1 96.3,165.0 96.7,164.8 97.1,165.0 97.5,165.0 97.9,164.2 98.3,164.5 98.7,165.0 99.1,164.5 99.5,164.4 99.9,165.0 100.3,164.8 100.7,164.8 101.1,165.0 101.5,164.3 101.9,165.0 102.0,165.0 102.3,165.0 102.7,165.0 103.1,164.1 103.5,165.0 103.9,164.7 104.3,165.0 104.7,164.7 105.1,164.6 105.5,165.0 105.9,165.0 106.3,164.9 106.7,164.9 107.1,165.0 107.5,165.0 107.9,164.6 108.3,164.2 108.7,164.7 109.1,165.0 109.5,164.8 109.9,165.0 110.3,164.7 110.7,163.9 111.1,165.0 111.5,165.0 111.9,165.0 112.3,165.0 112.7,165.0 113.1,164.0 113.5,164.8 113.9,165.0 114.3,163.8 114.7,165.0 115.1,164.5 115.5,164.4 115.9,164.7 116.3,165.0 116.7,165.0 117.1,165.0 117.5,164.5 117.9,165.0 118.3,165.0 118.7,164.9 119.1,165.0 119.5,165.0 119.9,165.0 120.3,165.0 120.7,164.5 121.1,164.2 121.5,165.0 121.9,165.0 122.3,165.0 122.7,165.0 123.1,164.6 123.5,164.0 123.9,164.8 124.3,163.8 124.7,164.1 125.1,164.6 125.5,165.0 125.9,164.9 126.3,165.0 126.7,164.3 127.1,164.9 127.5,164.1 127.9,164.7 128.3,165.0 128.7,164.5 129.1,164.4 129.5,163.9 129.9,165.0 130.3,165.0 130.7,164.9 131.1,165.0 131.5,165.0 131.9,165.0 132.3,163.4 132.7,165.0 133.1,165.0 133.5,165.0 133.9,164.9 134.3,164.2 134.7,164.4 135.1,164.5 135.5,164.9 135.9,164.8 136.3,165.0 136.7,165.0 137.1,163.7 137.5,165.0 137.9,164.3 138.3,165.0 138.7,165.0 139.1,165.0 139.5,165.0 139.9,165.0 140.3,164.7 140.7,164.4 141.1,164.6 141.5,164.3 141.9,164.8 142.3,164.9 142.7,165.0 143.1,165.0 143.5,164.0 143.9,164.9 144.3,164.5 144.7,165.0 145.1,165.0 145.5,163.7 145.9,164.7 146.3,164.1 146.7,164.6 147.1,165.0 147.5,165.0 147.9,164.9 148.3,165.0 148.7,165.0 149.1,164.2 149.5,164.5 149.9,164.6 150.3,164.9 150.7,165.0 151.1,164.7 151.5,164.9 151.9,164.9 152.3,164.5 152.7,165.0 153.1,164.4 153.5,165.0 153.9,164.4 154.3,164.3 154.7,165.0 155.1,164.5 155.5,164.5 155.9,165.0 156.3,165.0 156.7,164.9 157.1,165.0 157.5,165.0 157.9,164.9 158.3,165.0 158.7,165.0 159.1,165.0 159.5,164.1 159.9,164.2 160.3,165.0 160.7,165.0 161.1,165.0 161.5,165.0 161.9,165.0 162.3,165.0 162.7,164.6 163.1,164.4 163.5,165.0 163.9,164.4 164.3,164.9 164.7,164.3 165.1,165.0 165.5,164.7 165.9,164.0 166.3,165.0 166.7,164.0 167.1,164.9 167.5,165.0 167.9,165.0 168.3,164.8 168.7,165.0 169.1,164.4 169.5,164.9 169.9,165.0 170.3,164.4 170.7,164.9 171.1,164.6 171.5,164.5 171.9,164.8 172.3,164.5 172.7,164.5 173.1,165.0 173.5,165.0 173.9,165.0 174.0,165.0" fill="none" stroke="#666" stroke-width="1" stroke-linejoin="round" />
<polyline points="33.5,164.7 33.9,165.0 34.3,164.4 34.7,165.0 35.1,164.2 35.5,164.8 35.9,163.9 36.3,165.0 36.7,165.0 37.1,164.7 37.5,164.7 37.9,165.0 38.0,165.0 38.3,164.6 38.7,164.6 39.1,165.0 39.5,165.0 39.9,165.0 40.3,164.0 40.7,165.0 41.1,162.1 41.5,162.7 41.9,161.4 42.0,162.6 42.3,162.6 42.7,161.5 43.1,163.5 43.5,161.4 43.9,163.7 44.3,161.9 44.7,161.1 45.1,161.9 45.5,161.9 45.5,161.9 45.9,161.7 46.3,160.9 46.7,160.7 47.1,160.9 47.1,160.9 47.5,160.3 47.9,160.9 48.3,160.3 48.7,160.2 49.1,159.3 49.5,159.3 49.9,159.0 50.3,158.8 50.7,159.0 50.9,158.5 51.1,157.7 51.5,157.9 51.9,157.2 52.3,157.1 52.7,156.0 53.1,155.8 53.5,155.2 53.9,155.0 54.3,153.8 54.7,154.5 54.7,154.4 55.1,153.7 55.5,152.0 55.9,151.8 56.3,150.9 56.5,149.8 56.7,148.4 57.1,147.2 57.5,148.2 57.9,145.3 57.9,144.8 58.3,143.4 58.7,140.5 59.1,136.3 59.5,136.1 59.5,136.0 59.9,131.1 60.3,127.9 60.6,125.0 60.7,124.7 61.1,119.4 61.5,114.5 61.5,115.7 61.9,112.9 62.3,105.7 62.5,104.7 62.7,103.0 63.1,98.4 63.5,92.2 63.5,92.4 63.9,85.5 64.2,79.4 64.3,77.8 64.7,68.6 64.7,70.1 65.1,62.9 65.3,59.5 65.5,58.8 65.8,53.1 65.9,52.5 66.3,49.2 66.6,46.9 66.7,46.8 67.1,50.0 67.5,49.2 67.6,49.3 67.9,50.9 68.3,48.5 68.7,53.2 68.8,52.1 69.1,50.3 69.5,44.9 69.6,44.9 69.9,42.0 70.3,38.5 70.5,36.9 70.7,41.3 71.0,46.1 71.1,47.3 71.5,45.2 71.9,47.8 72.2,48.4 72.3,49.4 72.7,49.5 73.0,55.0 73.1,54.8 73.5,58.2 73.8,61.0 73.9,62.5 74.3,64.7 74.7,67.4 75.0,69.8 75.1,66.8 75.5,72.1 75.9,76.5 76.3,80.2 76.3,80.3 76.7,83.4 77.1,89.2 77.5,92.9 77.5,94.0 77.9,95.9 78.3,96.8 78.7,102.2 79.0,103.7 79.1,104.8 79.5,106.9 79.9,110.3 80.3,114.9 80.7,119.0 80.9,119.9 81.1,120.6 81.5,122.5 81.9,122.5 82.3,123.8 82.7,126.5 83.1,126.8 83.4,126.6 83.5,127.2 83.9,129.8 84.3,129.2 84.7,134.1 85.1,138.0 85.3,137.0 85.5,138.9 85.9,139.0 86.3,140.3 86.7,144.8 87.1,143.9 87.2,145.6 87.5,145.7 87.9,146.3 88.3,147.1 88.7,148.2 89.1,148.9 89.5,150.6 89.9,150.4 90.3,150.8 90.4,151.4 90.7,150.3 91.1,151.9 91.5,152.6 91.9,152.6 92.3,154.0 92.7,155.4 93.1,156.5 93.5,155.1 93.9,156.0 94.2,156.6 94.3,157.0 94.7,157.0 95.1,156.7 95.5,157.8 95.9,158.9 96.3,159.0 96.7,158.6 97.1,160.1 97.5,161.0 97.9,161.3 98.0,160.7 98.3,160.4 98.7,161.0 99.1,161.5 99.5,162.0 99.9,161.9 100.3,162.3 100.7,162.9 101.1,162.9 101.5,163.6 101.8,162.7 101.9,165.0 102.3,164.9 102.7,165.0 103.1,164.6 103.5,165.0 103.9,164.8 104.3,164.7 104.7,164.9 105.1,164.4 105.5,165.0 105.6,164.8 105.9,165.0 106.3,164.8 106.7,164.1 107.1,164.3 107.5,163.8 107.9,165.0 108.3,165.0 108.7,164.4 109.1,165.0 109.5,165.0 109.9,164.0 110.3,164.5 110.7,165.0 111.1,164.7 111.5,164.6 111.9,165.0 112.3,165.0 112.7,164.9 113.1,165.0 113.5,164.9 113.9,165.0 114.3,164.8 114.7,164.7 115.0,165.0 115.1,164.6 115.5,164.8 115.9,165.0 116.3,164.6 116.7,165.0 117.1,165.0 117.5,165.0 117.9,165.0 118.3,164.3 118.7,165.0 119.1,165.0 119.5,165.0 119.9,165.0 120.3,164.9 120.7,165.0 121.1,164.4 121.5,164.8 121.9,165.0 122.3,165.0 122.7,164.1 123.1,164.1 123.5,165.0 123.9,165.0 124.3,163.7 124.7,165.0 125.1,164.8 125.5,165.0 125.9,164.9 126.3,165.0 126.7,165.0 127.1,164.4 127.5,165.0 127.9,165.0 128.3,165.0 128.7,165.0 129.1,165.0 129.5,165.0 129.9,164.7 130.3,165.0 130.7,165.0 131.1,164.9 131.5,165.0 131.9,165.0 132.3,165.0 132.7,165.0 133.1,164.8 133.5,164.5 133.9,164.8 134.3,164.9 134.7,164.6 135.1,164.4 135.5,164.0 135.9,164.8 136.3,165.0 136.7,164.7 137.1,165.0 137.5,165.0 137.9,165.0 138.3,165.0 138.7,164.7 139.1,165.0 139.5,165.0 139.9,165.0 140.3,165.0 140.7,165.0 141.1,164.8 141.5,165.0 141.9,164.6 142.3,164.2 142.7,165.0 143.1,164.6 143.5,165.0 143.9,165.0 144.3,164.4 144.7,165.0 145.1,165.0 145.5,165.0 145.9,164.3 146.3,164.3 146.7,165.0 147.1,164.9 147.5,165.0 147.9,164.5 148.3,164.8 148.7,164.2 149.1,165.0 149.5,164.8 149.9,165.0 150.3,165.0 150.7,165.0 151.1,165.0 151.5,164.5 151.9,164.9 152.3,165.0 152.7,164.7 153.1,165.0 153.5,165.0 153.9,165.0 154.3,164.9 154.7,164.9 155.1,163.9 155.5,165.0 155.9,164.0 156.3,164.8 156.7,164.3 157.1,165.0 157.5,165.0 157.9,165.0 158.3,164.5 158.7,164.9 159.1,164.5 159.5,164.8 159.9,164.4 160.3,164.9 160.7,165.0 161.1,164.7 161.5,164.9 161.9,164.0 162.3,165.0 162.7,164.9 163.1,165.0 163.5,164.3 163.9,164.5 164.3,164.6 164.7,165.0 165.1,165.0 165.5,164.8 165.9,164.6 166.3,164.1 166.7,165.0 167.1,165.0 167.5,165.0 167.9,165.0 168.3,165.0 168.7,164.4 169.1,165.0 169.5,165.0 169.9,165.0 170.3,164.2 170.7,163.6 171.1,165.0 171.5,165.0 171.9,165.0 172.3,164.3 172.7,164.7 173.1,164.1 173.5,165.0 173.9,165.0 174.0,165.0" fill="none" stroke="#000" stroke-width="1.9" stroke-linejoin="round" />
<polyline points="207.0,163.7 207.4,162.9 207.8,163.8 208.2,162.8 208.6,163.8 209.0,162.5 209.4,162.2 209.6,161.6 209.8,160.6 210.2,157.7 210.6,156.1 211.0,154.2 211.4,155.5 211.5,153.4 211.8,149.8 212.2,149.5 212.6,146.6 213.0,146.8 213.4,148.9 213.8,144.3 214.2,144.2 214.5,144.2 214.6,145.3 215.0,142.9 215.4,142.1 215.8,139.3 216.2,139.5 216.6,135.9 217.0,138.9 217.4,135.7 217.8,134.5 218.1,135.1 218.2,136.4 218.6,131.4 219.0,131.2 219.4,131.3 219.8,129.1 220.2,130.1 220.6,127.2 221.0,127.7 221.2,125.9 221.4,123.4 221.8,124.7 222.2,121.0 222.6,123.4 223.0,120.2 223.0,122.8 223.4,118.5 223.8,116.6 224.2,115.1 224.2,115.4 224.6,111.3 225.0,109.3 225.3,110.5 225.4,107.8 225.8,110.0 226.2,106.6 226.4,104.7 226.6,96.2 227.0,80.4 227.0,81.0 227.2,65.0 227.4,60.3 227.5,56.7 227.8,52.3 228.2,47.7 228.3,48.0 228.6,46.2 229.0,43.8 229.3,42.2 229.4,42.3 229.8,41.1 230.2,36.8 230.3,37.2 230.6,38.8 231.0,40.3 231.3,41.8 231.4,40.6 231.8,45.6 232.2,48.3 232.4,48.9 232.6,51.3 233.0,50.5 233.4,53.1 233.5,54.7 233.8,57.2 234.2,58.6 234.5,61.2 234.6,62.9 235.0,71.6 235.2,75.7 235.4,79.8 235.8,94.0 235.9,97.0 236.2,97.5 236.6,101.1 237.0,106.5 237.4,107.4 237.5,108.1 237.8,107.6 238.2,113.0 238.6,112.2 239.0,113.2 239.4,112.3 239.6,115.5 239.8,123.0 240.2,128.9 240.4,129.9 240.6,129.8 241.0,130.8 241.4,135.8 241.8,140.5 242.2,140.3 242.6,144.4 242.7,145.1 243.0,146.3 243.4,146.2 243.8,151.1 244.2,152.9 244.6,153.3 245.0,155.0 245.0,156.0 245.4,156.8 245.8,155.9 246.2,155.5 246.6,157.0 247.0,157.7 247.3,158.6 247.4,161.3 247.8,161.2 248.2,160.9 248.6,161.9 249.0,162.2 249.4,161.7 249.6,162.3 249.8,163.8 250.2,163.8 250.6,163.8 251.0,163.0 251.4,163.8 251.8,163.6 252.2,163.4 252.6,163.8 253.0,163.5 253.4,163.7 253.8,163.4 254.2,163.8 254.6,163.8 255.0,163.8 255.4,163.8 255.8,163.5 256.2,163.8 256.6,163.8 257.0,163.8 257.4,163.1 257.8,163.8 258.2,162.9 258.6,163.8 259.0,163.8 259.4,163.3 259.8,163.5 260.0,163.8 260.2,163.8 260.6,163.8 261.0,163.3 261.4,163.5 261.8,163.8 262.2,163.6 262.6,163.8 263.0,163.8 263.4,163.8 263.8,163.8 264.2,163.5 264.6,163.5 265.0,163.5 265.4,163.1 265.8,163.8 266.2,163.8 266.6,163.8 267.0,163.7 267.4,163.8 267.8,163.5 268.2,163.3 268.6,163.8 269.0,163.8 269.4,163.8 269.8,163.2 270.2,163.8 270.6,163.8 271.0,163.8 271.4,163.8 271.8,162.9 272.2,163.3 272.6,163.8 273.0,163.8 273.4,163.6 273.8,163.4 274.2,163.6 274.6,163.8 275.0,163.6 275.4,163.8 275.8,163.8 276.2,163.8 276.6,163.8 277.0,163.2 277.4,163.2 277.8,163.8 278.2,163.7 278.6,163.7 279.0,163.8 279.4,163.8 279.8,163.8 280.2,163.7 280.6,163.8 281.0,163.8 281.4,163.8 281.8,163.8 282.2,163.8 282.6,163.8 283.0,163.8 283.4,163.5 283.8,163.8 284.2,163.8 284.6,163.6 285.0,163.8 285.4,163.8 285.8,163.8 286.2,163.8 286.6,163.8 287.0,163.8 287.4,163.5 287.8,163.8 288.2,163.0 288.6,162.8 289.0,163.8 289.4,163.5 289.8,162.6 290.2,163.8 290.6,163.8 291.0,163.8 291.4,163.8 291.8,163.8 292.2,163.7 292.6,163.8 293.0,163.7 293.4,163.5 293.8,163.8 294.2,163.8 294.6,163.8 295.0,163.8 295.4,163.8 295.8,163.6 296.2,163.8 296.6,163.6 297.0,163.2 297.4,163.2 297.8,163.8 298.2,163.8 298.6,163.8 299.0,163.7 299.4,163.2 299.8,163.8 300.2,163.8 300.6,163.7 301.0,163.1 301.4,163.0 301.8,163.8 302.2,163.8 302.6,163.8 303.0,163.3 303.4,163.5 303.8,163.8 304.2,163.8 304.6,163.6 305.0,163.2 305.4,163.8 305.8,163.8 306.2,163.7 306.6,163.8 307.0,163.6 307.4,163.8 307.8,163.8 308.2,163.8 308.6,163.8 309.0,163.2 309.4,163.8 309.8,163.8 310.2,163.3 310.6,163.8 311.0,163.8 311.4,163.1 311.8,163.8 312.2,163.0 312.6,163.8 313.0,163.8 313.4,163.8 313.8,163.8 314.2,163.4 314.6,163.5 315.0,163.8 315.4,163.0 315.8,163.4 316.2,163.6 316.6,163.7 317.0,163.8 317.4,163.8 317.8,163.4 318.2,163.5 318.6,163.8 319.0,163.2 319.4,163.8 319.8,163.5 320.2,163.3 320.6,163.8 321.0,163.8 321.4,162.8 321.8,163.8 322.2,163.1 322.6,163.8 323.0,163.6 323.4,163.8 323.8,163.8 324.2,163.8 324.6,163.8 325.0,163.2 325.4,163.3 325.8,163.3 326.2,163.7 326.6,162.8 327.0,163.2 327.4,163.6 327.8,163.8 328.2,163.4 328.6,163.4 329.0,163.7 329.4,163.4 329.8,163.3 330.2,163.8 330.6,163.5 331.0,163.6 331.4,163.6 331.8,163.8 332.2,163.8 332.6,163.7 333.0,162.9 333.4,162.4 333.8,163.8 334.2,163.8 334.6,163.8 335.0,163.8 335.4,163.8 335.8,163.6 336.2,163.8 336.6,163.4 337.0,163.3 337.4,162.9 337.8,162.7 338.2,163.2 338.6,162.4 339.0,163.8 339.4,163.6 339.8,163.7 340.2,163.5 340.6,163.2 341.0,163.8 341.4,162.8 341.8,163.0 342.2,163.6 342.6,163.5 343.0,163.8 343.4,163.8 343.8,163.8 344.2,163.6 344.6,163.7 345.0,163.8 345.4,163.8 345.8,162.7 346.2,163.4 346.6,163.4 347.0,163.8 347.0,163.4" fill="none" stroke="#111" stroke-width="1" stroke-linejoin="round" stroke-dasharray="1.2,0.9"/>
<polyline points="207.0,163.8 207.4,163.8 207.8,163.8 208.2,163.8 208.6,162.9 209.0,163.8 209.4,163.2 209.8,163.0 210.0,163.8 210.2,163.8 210.6,161.5 211.0,160.5 211.4,159.3 211.8,160.0 212.2,159.1 212.6,160.5 212.7,160.2 213.0,161.0 213.4,159.8 213.8,158.4 214.2,157.2 214.6,158.0 215.0,155.2 215.4,155.4 215.8,155.2 216.2,154.7 216.6,151.0 217.0,152.3 217.4,152.8 217.5,151.9 217.8,148.9 218.2,150.9 218.6,148.0 219.0,146.9 219.4,150.6 219.8,145.3 220.2,146.5 220.6,146.8 221.0,145.3 221.4,143.1 221.8,142.9 221.8,142.4 222.2,142.5 222.6,138.3 223.0,136.5 223.4,134.6 223.8,134.3 224.2,131.5 224.6,129.7 224.8,131.8 225.0,129.7 225.4,128.1 225.8,126.1 226.0,125.6 226.2,126.8 226.6,120.2 226.6,119.2 227.0,116.8 227.3,110.5 227.4,105.3 227.8,97.0 228.0,90.2 228.2,82.4 228.6,69.1 228.7,65.3 229.0,64.2 229.4,62.3 229.8,60.2 229.8,59.8 230.2,56.5 230.6,56.3 230.8,55.3 231.0,54.5 231.4,53.3 231.5,53.8 231.8,54.1 232.2,52.9 232.4,53.1 232.6,54.6 233.0,52.8 233.4,53.3 233.5,53.9 233.8,54.9 234.2,57.7 234.6,53.2 235.0,55.3 235.0,57.8 235.4,58.9 235.8,64.7 235.9,64.8 236.2,66.4 236.6,66.7 237.0,69.5 237.4,71.2 237.5,71.9 237.8,72.3 238.2,77.6 238.6,77.1 239.0,80.6 239.0,81.4 239.4,93.6 239.6,100.2 239.8,103.3 240.2,108.9 240.5,115.2 240.6,115.6 241.0,120.9 241.4,127.5 241.5,129.3 241.8,131.9 242.2,133.2 242.6,133.0 243.0,139.0 243.4,141.6 243.8,143.8 244.0,144.8 244.2,146.6 244.6,147.9 245.0,151.4 245.4,152.3 245.8,153.9 246.2,155.7 246.6,156.7 247.0,157.8 247.0,158.4 247.4,159.7 247.8,158.9 248.2,159.5 248.6,161.3 249.0,160.5 249.4,162.2 249.8,162.3 250.0,162.2 250.2,163.3 250.6,163.8 251.0,163.8 251.4,163.7 251.8,163.2 252.2,163.1 252.6,163.8 253.0,163.1 253.4,163.6 253.8,163.1 254.2,163.2 254.6,163.8 255.0,163.8 255.4,163.8 255.8,163.6 256.2,162.8 256.6,163.8 257.0,163.8 257.4,162.3 257.8,163.8 258.2,163.8 258.6,163.8 259.0,163.8 259.4,163.3 259.8,163.2 260.0,163.8 260.2,163.8 260.6,163.8 261.0,163.8 261.4,163.7 261.8,163.8 262.2,163.8 262.6,163.6 263.0,163.2 263.4,163.8 263.8,163.1 264.2,162.7 264.6,163.7 265.0,163.8 265.4,163.7 265.8,163.8 266.2,163.8 266.6,163.4 267.0,163.4 267.4,163.8 267.8,163.8 268.2,163.8 268.6,163.8 269.0,163.8 269.4,163.8 269.8,163.3 270.2,163.8 270.6,163.8 271.0,162.7 271.4,163.8 271.8,163.5 272.2,163.8 272.6,163.8 273.0,163.4 273.4,163.8 273.8,163.8 274.2,163.8 274.6,163.6 275.0,163.8 275.4,163.4 275.8,163.6 276.2,163.8 276.6,163.8 277.0,163.4 277.4,163.8 277.8,163.8 278.2,163.6 278.6,163.8 279.0,163.8 279.4,163.5 279.8,163.6 280.0,163.6 280.2,163.8 280.6,163.8 281.0,163.8 281.4,163.6 281.8,163.8 282.2,163.8 282.6,163.8 283.0,163.8 283.4,163.8 283.8,162.4 284.2,163.8 284.6,163.7 285.0,163.7 285.4,163.8 285.8,163.8 286.2,162.7 286.6,163.8 287.0,162.9 287.4,163.4 287.8,163.8 288.2,163.8 288.6,163.8 289.0,163.8 289.4,163.1 289.8,163.6 290.2,163.5 290.6,163.8 291.0,163.5 291.4,163.8 291.8,162.4 292.2,163.8 292.6,163.6 293.0,163.6 293.4,163.8 293.8,163.8 294.2,163.8 294.6,163.3 295.0,163.8 295.4,163.8 295.8,163.6 296.2,163.8 296.6,163.8 297.0,163.8 297.4,163.8 297.8,163.8 298.2,163.2 298.6,163.8 299.0,163.8 299.4,163.8 299.8,163.5 300.2,163.8 300.6,163.8 301.0,163.8 301.4,162.4 301.8,163.8 302.2,163.8 302.6,163.1 303.0,163.4 303.4,163.8 303.8,163.0 304.2,163.8 304.6,163.8 305.0,163.8 305.4,163.0 305.8,163.8 306.2,162.3 306.6,163.5 307.0,163.5 307.4,163.8 307.8,163.8 308.2,163.8 308.6,163.3 309.0,163.8 309.4,163.8 309.8,163.3 310.2,163.3 310.6,163.8 311.0,163.6 311.4,163.2 311.8,163.2 312.2,163.8 312.6,163.8 313.0,163.8 313.4,163.3 313.8,163.8 314.2,163.8 314.6,163.8 315.0,163.5 315.4,163.8 315.8,163.8 316.2,163.8 316.6,163.8 317.0,163.8 317.4,163.8 317.8,163.8 318.2,163.8 318.6,163.6 319.0,163.8 319.4,163.8 319.8,162.8 320.2,163.8 320.6,163.8 321.0,163.8 321.4,163.6 321.8,163.7 322.2,163.7 322.6,163.8 323.0,163.6 323.4,163.6 323.8,163.8 324.2,163.2 324.6,163.8 325.0,163.4 325.4,163.8 325.8,163.3 326.2,162.7 326.6,163.8 327.0,163.8 327.4,163.8 327.8,163.0 328.2,162.9 328.6,163.7 329.0,163.4 329.4,162.8 329.8,163.5 330.2,163.8 330.6,163.8 331.0,163.8 331.4,163.6 331.8,163.8 332.2,163.0 332.6,163.8 333.0,162.9 333.4,163.8 333.8,163.0 334.2,163.7 334.6,163.0 335.0,162.6 335.4,162.8 335.8,163.2 336.2,163.8 336.6,163.8 337.0,163.8 337.4,162.9 337.8,163.0 338.2,163.2 338.6,163.8 339.0,162.1 339.4,163.8 339.8,163.3 340.2,163.8 340.6,163.8 341.0,163.0 341.4,163.2 341.8,163.8 342.2,163.8 342.6,163.1 343.0,163.8 343.4,163.3 343.8,163.8 344.2,163.4 344.6,163.8 345.0,163.2 345.4,163.8 345.8,163.8 346.2,163.8 346.6,163.8 347.0,163.8 347.0,163.8" fill="none" stroke="#666" stroke-width="1" stroke-linejoin="round" />
<polyline points="207.0,163.7 207.4,163.7 207.8,163.8 208.2,163.8 208.6,163.5 209.0,163.8 209.4,163.3 209.8,163.4 210.2,163.3 210.6,163.3 211.0,163.6 211.4,163.8 211.8,163.8 212.2,162.9 212.6,163.8 213.0,163.8 213.3,163.8 213.4,163.8 213.8,163.8 214.2,163.6 214.6,163.8 215.0,163.8 215.4,163.8 215.8,163.7 216.2,163.8 216.6,163.8 217.0,160.9 217.4,162.6 217.8,161.9 218.2,159.4 218.6,162.6 219.0,163.1 219.4,162.0 219.8,160.0 220.2,159.8 220.6,162.5 221.0,160.9 221.4,161.4 221.8,161.5 221.8,163.0 222.2,160.2 222.6,161.7 223.0,160.6 223.4,160.4 223.8,159.6 224.2,159.6 224.6,160.3 225.0,159.7 225.4,159.0 225.8,159.7 226.2,159.2 226.6,158.8 226.6,159.5 227.0,159.1 227.4,159.0 227.8,157.9 228.2,158.0 228.6,157.1 229.0,157.2 229.4,156.7 229.8,156.8 230.2,156.1 230.3,156.4 230.6,156.3 231.0,154.4 231.4,153.7 231.8,152.1 232.2,152.7 232.6,152.2 232.7,151.9 233.0,152.9 233.4,149.7 233.8,146.8 234.2,146.2 234.5,144.9 234.6,143.0 235.0,140.8 235.4,137.4 235.7,134.7 235.8,133.5 236.2,128.0 236.3,127.9 236.6,124.4 237.0,120.2 237.0,118.7 237.4,119.2 237.8,114.1 238.0,114.8 238.2,109.8 238.6,105.2 238.6,104.1 239.0,98.9 239.3,95.5 239.4,94.0 239.8,88.9 239.8,89.8 240.2,83.7 240.6,77.5 240.6,77.5 241.0,70.6 241.4,65.3 241.4,66.8 241.8,60.4 242.0,60.1 242.2,59.0 242.6,57.5 243.0,55.5 243.0,54.6 243.4,50.1 243.5,48.0 243.8,44.9 244.0,40.6 244.2,41.7 244.6,41.4 245.0,45.9 245.0,43.7 245.4,48.5 245.8,51.8 245.8,52.7 246.2,48.9 246.6,43.7 246.7,44.6 247.0,44.1 247.4,41.7 247.7,39.0 247.8,40.9 248.2,42.2 248.3,44.3 248.6,46.9 248.8,49.5 249.0,53.0 249.3,59.9 249.4,60.6 249.8,63.7 250.2,66.6 250.4,67.6 250.6,68.5 251.0,73.0 251.4,78.6 251.5,78.2 251.8,86.7 251.9,90.0 252.2,93.1 252.6,92.7 253.0,92.4 253.4,98.9 253.8,99.3 253.9,99.3 254.2,102.5 254.6,105.2 255.0,107.3 255.4,109.7 255.8,113.6 255.9,113.5 256.2,118.4 256.6,118.6 257.0,122.1 257.4,125.8 257.8,128.4 257.9,129.6 258.2,129.6 258.6,133.3 259.0,134.7 259.3,136.4 259.4,137.4 259.8,138.1 260.2,140.7 260.6,141.5 260.8,141.8 261.0,142.6 261.4,143.4 261.8,144.1 262.2,147.6 262.6,147.6 263.0,148.2 263.4,149.2 263.8,151.1 263.8,152.3 264.2,152.5 264.6,152.7 265.0,153.3 265.4,154.5 265.8,155.5 265.8,155.4 266.2,156.4 266.6,156.5 267.0,156.8 267.4,157.9 267.8,158.2 267.8,159.5 268.2,158.7 268.6,158.1 269.0,158.7 269.4,158.7 269.8,159.5 270.2,160.2 270.6,160.2 271.0,159.7 271.4,161.1 271.8,161.0 272.2,162.5 272.6,161.7 272.7,161.4 273.0,160.9 273.4,162.2 273.8,160.1 274.2,161.2 274.6,162.2 275.0,162.8 275.4,163.8 275.8,163.7 276.2,162.6 276.6,163.8 277.0,163.8 277.4,163.8 277.8,163.8 278.2,163.8 278.6,163.8 279.0,163.8 279.4,162.9 279.7,163.6 279.8,163.2 280.2,163.7 280.6,163.5 281.0,163.2 281.4,163.8 281.8,163.6 282.2,163.8 282.6,163.1 283.0,163.8 283.4,163.4 283.8,163.3 284.2,163.3 284.6,163.4 285.0,163.8 285.4,163.8 285.8,163.8 286.2,163.8 286.6,163.8 287.0,163.8 287.4,163.8 287.8,163.8 288.2,163.6 288.6,163.8 289.0,163.6 289.4,162.9 289.8,162.8 290.2,163.8 290.6,163.2 291.0,163.6 291.4,162.4 291.8,162.8 292.2,163.1 292.6,163.8 293.0,163.8 293.4,163.5 293.8,163.8 294.2,163.8 294.6,163.4 295.0,163.8 295.4,163.8 295.8,163.8 296.2,163.8 296.6,163.8 297.0,163.8 297.4,163.8 297.8,163.8 298.2,162.9 298.6,163.6 299.0,163.8 299.4,163.6 299.8,163.1 300.0,163.6 300.2,163.8 300.6,163.4 301.0,163.3 301.4,163.8 301.8,163.8 302.2,163.8 302.6,163.2 303.0,162.9 303.4,163.7 303.8,162.9 304.2,163.2 304.6,163.8 305.0,163.8 305.4,163.8 305.8,163.7 306.2,162.9 306.6,163.3 307.0,163.8 307.4,163.8 307.8,163.3 308.2,163.7 308.6,163.8 309.0,163.4 309.4,163.0 309.8,163.3 310.2,163.7 310.6,163.0 311.0,163.8 311.4,163.8 311.8,163.8 312.2,162.6 312.6,162.5 313.0,163.8 313.4,163.4 313.8,163.5 314.2,163.2 314.6,163.1 315.0,163.4 315.4,163.8 315.8,163.8 316.2,163.8 316.6,163.8 317.0,163.8 317.4,163.8 317.8,163.8 318.2,163.8 318.6,163.8 319.0,163.8 319.4,163.5 319.8,163.7 320.2,163.8 320.6,163.8 321.0,163.4 321.4,163.6 321.8,163.6 322.2,163.8 322.6,163.3 323.0,163.7 323.4,162.3 323.8,163.8 324.2,163.8 324.6,162.8 325.0,163.8 325.4,163.8 325.8,163.5 326.2,163.8 326.6,163.5 327.0,163.8 327.4,163.6 327.8,163.8 328.2,163.0 328.6,163.6 329.0,163.8 329.4,163.6 329.8,163.8 330.2,163.8 330.6,163.8 331.0,163.8 331.4,163.6 331.8,163.7 332.2,163.3 332.6,163.8 333.0,163.8 333.4,163.8 333.8,163.6 334.2,163.3 334.6,163.2 335.0,163.5 335.4,163.8 335.8,163.7 336.2,163.8 336.6,163.8 337.0,163.7 337.4,163.8 337.8,163.4 338.2,163.3 338.6,163.8 339.0,163.8 339.4,163.8 339.8,163.8 340.2,163.6 340.6,163.8 341.0,163.8 341.4,163.4 341.8,162.7 342.2,163.8 342.6,162.8 343.0,163.8 343.4,163.8 343.8,163.0 344.2,163.8 344.6,163.8 345.0,163.4 345.4,163.2 345.8,163.8 346.2,163.8 346.6,163.8 347.0,163.8 347.0,163.8" fill="none" stroke="#000" stroke-width="1.9" stroke-linejoin="round" />
<polyline points="373.5,169.4 373.9,167.3 374.3,166.2 374.7,167.0 375.1,164.5 375.3,164.8 375.5,163.1 375.9,161.8 376.3,158.8 376.7,159.6 377.1,154.1 377.3,155.1 377.5,155.8 377.9,152.6 378.3,151.6 378.7,153.7 379.1,148.7 379.3,149.3 379.5,149.1 379.9,149.1 380.3,148.2 380.7,146.7 381.1,146.1 381.5,148.2 381.9,145.5 381.9,145.7 382.3,146.2 382.7,143.7 383.1,140.7 383.5,140.1 383.9,141.4 384.3,140.6 384.7,139.9 385.1,137.2 385.2,136.7 385.5,136.3 385.9,133.9 386.3,133.5 386.7,130.1 387.1,135.8 387.5,134.9 387.9,130.0 388.3,127.2 388.5,128.1 388.7,126.2 389.1,127.9 389.5,125.8 389.9,123.4 390.3,119.6 390.5,119.7 390.7,120.1 391.1,116.9 391.5,116.2 391.9,113.3 392.2,112.4 392.3,109.0 392.6,100.3 392.7,96.1 393.1,80.9 393.1,80.4 393.2,69.0 393.5,62.5 393.8,55.0 393.9,53.8 394.2,47.5 394.3,48.4 394.7,43.7 395.1,40.5 395.5,40.4 395.5,39.3 395.9,36.0 396.3,37.2 396.6,37.6 396.7,39.6 397.1,38.8 397.5,37.3 397.9,40.2 398.3,41.2 398.4,42.7 398.7,45.8 399.1,47.1 399.5,52.1 399.7,52.1 399.9,52.6 400.3,56.1 400.7,58.1 401.1,62.2 401.1,61.3 401.5,64.8 401.9,71.6 402.3,74.5 402.3,73.3 402.7,77.4 403.1,83.2 403.2,84.9 403.5,90.4 403.9,97.2 404.0,99.6 404.3,105.3 404.7,112.8 404.8,111.7 405.1,118.8 405.4,125.0 405.5,127.1 405.9,135.8 406.0,136.3 406.3,135.8 406.7,138.5 407.1,141.8 407.5,145.9 407.7,147.6 407.9,149.3 408.3,150.5 408.7,153.2 409.0,154.2 409.1,154.0 409.5,153.3 409.9,159.6 410.3,157.5 410.7,158.8 410.8,160.5 411.1,160.2 411.5,161.1 411.9,162.6 412.3,163.3 412.7,165.1 413.0,163.4 413.1,161.5 413.5,162.8 413.9,165.2 414.3,165.0 414.7,165.3 415.1,166.9 415.5,166.8 415.9,166.4 416.0,167.1 416.3,168.7 416.7,168.2 417.1,166.8 417.5,167.4 417.9,167.4 418.3,165.9 418.7,167.1 419.1,167.9 419.5,167.3 419.9,165.3 420.3,168.3 420.7,165.7 421.1,166.0 421.5,167.5 421.9,167.7 422.3,166.2 422.7,167.3 423.1,168.0 423.5,165.9 423.9,167.4 424.3,167.3 424.7,169.4 425.1,169.4 425.5,169.3 425.9,169.4 426.3,169.1 426.7,168.8 427.1,168.7 427.5,168.7 427.9,168.5 428.3,168.9 428.7,169.4 429.1,168.8 429.5,169.4 429.9,169.4 430.0,169.3 430.3,169.4 430.7,168.5 431.1,169.4 431.5,169.4 431.9,169.4 432.3,169.4 432.7,169.4 433.1,169.4 433.5,168.8 433.9,169.4 434.3,169.3 434.7,169.4 435.1,169.1 435.5,169.4 435.9,169.4 436.3,168.6 436.7,169.4 437.1,169.4 437.5,169.4 437.9,169.0 438.3,169.4 438.7,169.4 439.1,169.1 439.5,168.3 439.9,169.4 440.3,169.4 440.7,169.4 441.1,168.2 441.5,169.4 441.9,169.4 442.3,169.3 442.7,169.4 443.1,169.4 443.5,169.4 443.9,168.5 444.3,169.4 444.7,169.4 445.1,168.7 445.5,169.4 445.9,168.6 446.3,168.5 446.7,169.4 447.1,169.0 447.5,169.4 447.9,168.9 448.3,169.4 448.7,169.4 449.1,169.0 449.5,169.4 449.9,169.3 450.3,168.8 450.7,168.7 451.1,169.0 451.5,169.4 451.9,169.0 452.3,169.4 452.7,168.8 453.1,169.4 453.5,168.5 453.9,169.1 454.3,169.4 454.7,169.2 455.1,169.4 455.5,169.1 455.9,169.3 456.3,169.4 456.7,169.2 457.1,169.2 457.5,169.2 457.9,169.4 458.3,168.9 458.7,168.9 459.1,169.3 459.5,169.4 459.9,169.4 460.3,169.4 460.7,169.0 461.1,169.4 461.5,169.4 461.9,169.3 462.3,168.7 462.7,169.4 463.1,168.9 463.5,169.1 463.9,169.4 464.3,169.2 464.7,169.4 465.1,169.0 465.5,169.4 465.9,168.9 466.3,169.0 466.7,169.4 467.1,168.8 467.5,169.4 467.9,169.3 468.3,168.9 468.7,168.6 469.1,169.3 469.5,169.0 469.9,169.1 470.3,169.4 470.7,168.4 471.1,168.9 471.5,169.3 471.9,168.7 472.3,169.1 472.7,169.4 473.1,168.8 473.5,169.4 473.9,169.0 474.3,168.8 474.7,168.8 475.1,168.3 475.5,169.3 475.9,169.4 476.3,169.4 476.7,169.4 477.1,169.0 477.5,169.1 477.9,169.4 478.3,169.4 478.7,169.4 479.1,168.4 479.5,169.4 479.9,169.2 480.3,169.4 480.7,169.4 481.1,168.5 481.5,169.4 481.9,168.7 482.3,169.4 482.7,169.3 483.1,169.4 483.5,169.4 483.9,169.4 484.3,168.9 484.7,169.2 485.1,169.3 485.5,169.4 485.9,169.1 486.3,169.4 486.7,169.4 487.1,169.4 487.5,169.0 487.9,168.0 488.3,169.4 488.7,168.2 489.1,169.4 489.5,169.4 489.9,169.1 490.3,169.0 490.7,168.9 491.1,168.4 491.5,169.4 491.9,168.7 492.3,169.2 492.7,169.4 493.1,169.4 493.5,169.4 493.9,169.3 494.3,169.1 494.7,169.4 495.1,168.6 495.5,169.4 495.9,169.4 496.3,168.8 496.7,169.4 497.1,168.6 497.5,168.8 497.9,169.4 498.3,169.4 498.7,169.4 499.1,169.4 499.5,168.6 499.9,169.1 500.3,169.4 500.7,169.4 501.1,169.0 501.5,169.4 501.9,169.4 502.3,169.4 502.7,169.4 503.1,168.6 503.5,169.3 503.9,167.3 504.3,169.3 504.7,168.9 505.1,168.8 505.5,169.4 505.9,168.8 506.3,169.0 506.7,169.2 507.1,169.4 507.5,169.4 507.9,168.9 508.3,169.4 508.7,169.1 509.1,169.1 509.5,169.2 509.9,169.4 510.3,169.0 510.7,168.9 511.1,168.6 511.5,169.1 511.9,169.4 512.3,169.4 512.7,169.0 513.1,169.4 513.5,169.4 513.9,168.8 514.0,169.4" fill="none" stroke="#111" stroke-width="1" stroke-linejoin="round" stroke-dasharray="1.2,0.9"/>
<polyline points="373.5,169.2 373.9,168.9 374.3,167.6 374.7,166.6 375.1,167.4 375.5,168.1 375.9,164.7 376.0,165.9 376.3,167.5 376.7,166.2 377.1,165.5 377.5,164.3 377.9,163.0 378.3,163.5 378.6,163.6 378.7,162.9 379.1,162.9 379.5,161.8 379.9,162.0 380.3,161.9 380.7,158.7 381.1,159.7 381.5,158.6 381.9,158.7 382.3,158.0 382.6,157.0 382.7,155.9 383.1,154.5 383.5,154.4 383.9,154.9 384.3,150.0 384.7,151.6 385.1,150.7 385.5,151.7 385.9,150.5 386.3,148.6 386.5,149.7 386.7,149.5 387.1,146.8 387.5,142.9 387.9,144.5 388.3,145.4 388.7,144.6 389.1,140.3 389.5,141.8 389.8,140.0 389.9,136.4 390.3,137.4 390.7,136.2 391.1,135.1 391.5,129.9 391.8,130.0 391.9,130.9 392.3,128.9 392.7,123.4 393.1,118.4 393.1,119.8 393.5,119.1 393.9,115.0 394.3,112.2 394.5,111.9 394.7,109.6 395.1,105.6 395.3,103.7 395.5,101.2 395.9,95.9 396.3,89.5 396.5,85.6 396.7,79.3 397.1,68.8 397.4,61.6 397.5,59.2 397.9,52.0 397.9,52.3 398.3,46.5 398.5,44.1 398.7,43.4 399.1,43.8 399.5,40.2 399.5,39.4 399.9,43.0 400.3,46.6 400.6,48.4 400.7,49.3 401.1,49.5 401.5,54.5 401.7,54.6 401.9,57.1 402.3,58.2 402.7,62.9 402.8,62.9 403.1,65.3 403.5,69.3 403.7,72.3 403.9,74.8 404.3,80.1 404.7,84.0 404.8,85.1 405.1,91.7 405.5,99.3 405.5,100.4 405.9,105.7 406.3,110.3 406.5,112.1 406.7,120.2 407.0,129.8 407.1,133.3 407.5,134.8 407.9,143.4 408.0,144.5 408.3,148.6 408.7,150.3 409.0,151.9 409.1,150.3 409.5,154.3 409.9,154.8 410.0,157.2 410.3,156.0 410.7,159.5 411.1,161.6 411.5,162.8 411.9,161.5 412.0,162.1 412.3,162.1 412.7,162.9 413.1,162.9 413.5,162.3 413.9,164.5 414.0,164.4 414.3,165.0 414.7,166.5 415.1,165.5 415.5,164.3 415.9,166.6 416.0,165.4 416.3,165.5 416.7,165.7 417.1,165.4 417.5,166.2 417.9,166.2 418.3,165.2 418.7,167.0 419.1,166.6 419.5,167.6 419.9,166.5 420.3,163.9 420.7,165.7 421.1,167.6 421.5,168.4 421.9,166.4 422.3,166.4 422.7,167.6 423.1,166.0 423.5,166.8 423.9,166.6 424.3,166.7 424.7,166.4 425.0,167.6 425.1,168.0 425.5,166.3 425.9,167.6 426.3,168.5 426.7,167.2 427.1,167.9 427.5,167.2 427.9,164.8 428.3,166.0 428.7,167.9 429.1,169.4 429.5,169.3 429.9,169.4 430.3,169.2 430.7,169.2 431.1,168.9 431.5,169.3 431.9,169.4 432.3,169.4 432.7,169.3 433.1,169.2 433.5,168.6 433.9,169.4 434.3,169.4 434.7,169.4 435.1,169.4 435.5,169.0 435.9,169.4 436.3,168.2 436.7,169.4 437.1,168.5 437.5,169.4 437.9,169.4 438.3,169.3 438.7,169.3 439.1,168.8 439.5,168.6 439.9,169.4 440.3,169.4 440.7,169.2 441.1,169.2 441.5,169.4 441.9,168.5 442.3,169.2 442.7,169.4 443.1,169.2 443.5,169.4 443.9,169.4 444.3,168.9 444.7,169.0 445.0,169.3 445.1,169.1 445.5,168.8 445.9,169.4 446.3,169.3 446.7,168.6 447.1,169.4 447.5,169.4 447.9,169.4 448.3,168.7 448.7,169.4 449.1,168.7 449.5,169.4 449.9,169.3 450.3,169.2 450.7,169.4 451.1,169.4 451.5,168.8 451.9,169.4 452.3,169.1 452.7,169.0 453.1,169.4 453.5,168.6 453.9,169.3 454.3,169.4 454.7,169.4 455.1,169.4 455.5,169.2 455.9,168.1 456.3,169.4 456.7,169.4 457.1,169.4 457.5,168.1 457.9,169.3 458.3,168.2 458.7,169.4 459.1,169.4 459.5,169.4 459.9,169.4 460.3,169.4 460.7,169.3 461.1,169.4 461.5,169.4 461.9,169.4 462.3,169.4 462.7,168.6 463.1,168.5 463.5,169.2 463.9,169.0 464.3,169.4 464.7,169.2 465.1,169.4 465.5,169.4 465.9,169.3 466.3,169.0 466.7,169.4 467.1,169.4 467.5,169.4 467.9,169.4 468.3,169.4 468.7,169.4 469.1,169.4 469.5,169.4 469.9,169.4 470.3,169.4 470.7,169.4 471.1,169.4 471.5,169.2 471.9,169.0 472.3,168.5 472.7,168.9 473.1,169.4 473.5,169.4 473.9,168.2 474.3,169.4 474.7,169.4 475.1,168.7 475.5,169.1 475.9,169.4 476.3,169.3 476.7,169.4 477.1,168.9 477.5,169.4 477.9,169.4 478.3,169.3 478.7,169.4 479.1,169.4 479.5,169.2 479.9,169.4 480.3,169.4 480.7,169.4 481.1,168.6 481.5,169.0 481.9,169.4 482.3,168.8 482.7,169.3 483.1,169.4 483.5,169.4 483.9,169.1 484.3,169.4 484.7,169.2 485.1,168.8 485.5,169.0 485.9,169.4 486.3,169.4 486.7,169.0 487.1,168.8 487.5,169.4 487.9,169.4 488.3,168.3 488.7,168.4 489.1,169.3 489.5,169.4 489.9,169.0 490.3,169.4 490.7,169.3 491.1,169.2 491.5,168.7 491.9,169.1 492.3,169.4 492.7,168.3 493.1,169.0 493.5,169.4 493.9,169.4 494.3,169.0 494.7,169.4 495.1,168.9 495.5,169.4 495.9,169.4 496.3,168.4 496.7,168.3 497.1,169.4 497.5,168.4 497.9,169.2 498.3,169.1 498.7,169.4 499.1,169.0 499.5,168.5 499.9,168.5 500.3,168.1 500.7,168.2 501.1,168.9 501.5,169.4 501.9,168.8 502.3,168.9 502.7,169.4 503.1,169.4 503.5,169.4 503.9,169.4 504.3,169.4 504.7,169.2 505.1,168.5 505.5,169.2 505.9,169.4 506.3,169.4 506.7,169.4 507.1,168.5 507.5,169.2 507.9,169.4 508.3,169.3 508.7,169.4 509.1,169.4 509.5,169.3 509.9,169.4 510.3,169.4 510.7,168.6 511.1,169.4 511.5,168.7 511.9,168.8 512.3,168.9 512.7,169.4 513.1,168.7 513.5,169.1 513.9,168.9 514.0,169.4" fill="none" stroke="#666" stroke-width="1" stroke-linejoin="round" />
<polyline points="373.5,169.3 373.9,169.4 374.3,169.0 374.7,169.4 375.1,169.4 375.5,166.7 375.9,167.4 376.3,166.7 376.7,165.4 377.1,166.6 377.3,167.1 377.5,167.4 377.9,165.8 378.3,168.0 378.7,166.4 379.1,166.3 379.5,167.6 379.9,166.4 380.3,166.0 380.7,167.1 381.1,166.5 381.5,166.2 381.9,166.7 382.3,166.5 382.6,166.1 382.7,166.1 383.1,166.5 383.5,165.8 383.9,165.0 384.3,166.1 384.7,165.1 385.1,165.0 385.5,165.2 385.9,164.7 386.3,165.0 386.7,164.0 387.1,163.8 387.5,164.7 387.8,164.2 387.9,164.1 388.3,164.2 388.7,163.6 389.1,164.0 389.5,163.1 389.9,163.3 390.3,163.0 390.7,162.5 391.1,162.1 391.5,162.8 391.8,162.1 391.9,161.7 392.3,161.7 392.7,160.3 393.1,161.1 393.5,160.5 393.9,159.5 394.3,159.6 394.7,158.0 395.1,158.2 395.1,158.0 395.5,155.4 395.9,151.7 396.3,146.2 396.4,146.7 396.7,142.7 397.1,140.8 397.5,136.1 397.7,134.1 397.9,133.3 398.3,132.1 398.7,129.0 399.0,126.2 399.1,125.3 399.5,120.4 399.8,118.0 399.9,104.1 400.3,50.2 400.3,50.4 400.7,51.1 401.1,53.3 401.2,54.7 401.5,57.4 401.9,60.9 401.9,61.3 402.3,86.6 402.3,85.0 402.7,99.3 402.7,99.7 403.1,94.6 403.5,87.0 403.5,87.7 403.9,78.8 404.3,70.6 404.3,69.9 404.7,63.7 405.1,56.1 405.1,56.5 405.5,56.3 405.9,56.3 406.0,58.5 406.3,60.5 406.7,61.4 406.8,61.7 407.1,63.1 407.5,60.6 407.5,60.8 407.9,60.2 408.3,62.0 408.4,61.7 408.7,61.1 409.1,62.6 409.3,62.1 409.5,64.6 409.9,68.5 410.3,71.0 410.3,72.2 410.7,75.7 411.1,79.3 411.3,79.5 411.5,82.4 411.9,86.2 412.3,91.0 412.3,89.9 412.7,94.3 413.1,97.5 413.5,102.4 413.5,100.6 413.9,102.1 414.3,103.7 414.7,108.8 414.9,108.0 415.1,109.4 415.5,109.1 415.8,115.4 415.9,116.2 416.3,118.4 416.7,117.9 417.1,119.4 417.2,121.1 417.5,121.2 417.9,123.0 418.3,128.6 418.3,127.8 418.7,130.7 419.1,133.7 419.5,136.0 419.5,135.6 419.9,138.3 420.3,138.6 420.7,139.2 421.1,142.4 421.5,143.5 421.5,143.3 421.9,143.8 422.3,145.4 422.7,145.7 423.1,147.9 423.5,150.0 423.9,149.6 423.9,150.1 424.3,149.9 424.7,151.0 425.1,154.3 425.5,154.5 425.9,153.8 426.3,155.1 426.5,155.5 426.7,155.6 427.1,154.8 427.5,155.7 427.9,157.2 428.3,156.9 428.7,156.9 429.1,158.1 429.5,157.4 429.7,158.8 429.9,157.7 430.3,158.5 430.7,159.6 431.1,160.2 431.5,160.8 431.9,161.8 432.3,161.3 432.5,161.8 432.7,161.8 433.1,162.4 433.5,162.8 433.9,163.6 434.3,163.8 434.7,164.4 435.1,164.0 435.5,164.9 435.5,164.4 435.9,165.0 436.3,164.4 436.7,164.5 437.1,164.7 437.5,165.1 437.9,165.8 438.3,166.0 438.7,166.3 439.1,166.2 439.5,165.0 439.9,167.7 440.3,164.8 440.7,167.6 441.1,168.3 441.3,167.3 441.5,166.5 441.9,167.8 442.3,168.4 442.7,168.4 443.1,169.4 443.5,168.8 443.9,169.3 444.3,169.4 444.7,169.4 445.1,169.4 445.5,169.4 445.9,169.2 446.0,169.4 446.3,169.4 446.7,168.5 447.1,168.3 447.5,168.7 447.9,168.9 448.3,169.4 448.7,169.3 449.1,169.4 449.5,169.4 449.9,169.3 450.3,169.3 450.7,168.8 451.1,169.4 451.5,168.7 451.9,169.4 452.3,169.4 452.7,169.4 453.1,168.8 453.5,169.4 453.9,169.1 454.3,169.4 454.7,169.1 455.1,168.8 455.5,169.4 455.9,169.2 456.3,169.4 456.7,169.3 457.1,169.4 457.5,169.2 457.9,169.4 458.3,169.4 458.7,169.2 459.1,169.4 459.5,169.4 459.9,169.4 460.3,169.1 460.7,169.4 461.1,168.5 461.5,169.1 461.9,169.1 462.3,169.4 462.7,169.4 463.1,169.4 463.5,168.3 463.9,169.4 464.3,168.7 464.7,168.6 465.1,169.4 465.5,169.4 465.9,168.6 466.3,169.4 466.7,169.4 467.1,169.4 467.5,169.4 467.9,169.4 468.3,168.7 468.7,169.3 469.1,168.7 469.5,169.4 469.9,167.9 470.3,169.4 470.7,169.4 471.1,169.4 471.5,169.4 471.9,169.4 472.3,169.3 472.7,169.4 473.1,168.9 473.5,169.4 473.9,169.4 474.3,169.2 474.7,169.2 475.1,169.4 475.5,168.8 475.9,168.6 476.3,169.2 476.7,169.4 477.1,168.7 477.5,169.4 477.9,169.4 478.3,169.1 478.7,169.4 479.1,168.5 479.5,169.4 479.9,168.8 480.3,168.9 480.7,168.3 481.1,169.1 481.5,168.9 481.9,169.4 482.3,169.4 482.7,169.4 483.1,168.9 483.5,169.4 483.9,168.5 484.3,169.4 484.7,169.4 485.1,169.4 485.5,168.7 485.9,169.4 486.3,169.0 486.7,169.4 487.1,169.1 487.5,168.9 487.9,169.1 488.3,168.9 488.7,169.4 489.1,169.4 489.5,169.4 489.9,168.9 490.3,169.1 490.7,168.9 491.1,169.4 491.5,168.9 491.9,169.4 492.3,169.1 492.7,169.4 493.1,169.4 493.5,169.0 493.9,168.8 494.3,169.4 494.7,169.4 495.1,168.5 495.5,168.7 495.9,169.4 496.3,169.2 496.7,169.4 497.1,168.8 497.5,169.1 497.9,169.1 498.3,169.3 498.7,169.4 499.1,168.7 499.5,169.1 499.9,169.4 500.3,169.4 500.7,169.2 501.1,169.4 501.5,169.4 501.9,169.4 502.3,169.1 502.7,169.4 503.1,169.1 503.5,168.5 503.9,168.8 504.3,168.7 504.7,169.4 505.1,168.6 505.5,169.3 505.9,168.8 506.3,169.4 506.7,168.6 507.1,169.4 507.5,169.3 507.9,168.7 508.3,169.3 508.7,169.4 509.1,169.4 509.5,168.7 509.9,168.7 510.3,168.9 510.7,169.4 511.1,169.4 511.5,169.0 511.9,168.9 512.3,169.4 512.7,169.4 513.1,168.9 513.5,168.7 513.9,169.3 514.0,169.4" fill="none" stroke="#000" stroke-width="1.9" stroke-linejoin="round" />
<text x="42.00" y="222.20" font-family="Liberation Sans" font-size="11.2" font-weight="bold" text-anchor="start" fill="#000" stroke="#000" stroke-width="0.2" >D</text>
<text x="77.80" y="221.80" font-family="Liberation Sans" font-size="10.3" font-weight="normal" text-anchor="start" fill="#000" stroke="#000" stroke-width="0.2" >Hela cells</text>
<text x="214.60" y="222.20" font-family="Liberation Sans" font-size="11.2" font-weight="bold" text-anchor="start" fill="#000" stroke="#000" stroke-width="0.2" >E</text>
<text x="253" y="221.6" font-family="Liberation Sans" font-size="10.3" fill="#000" stroke="#000" stroke-width="0.15">CD4<tspan font-size="9.5" dy="-4" dx="0.8">+</tspan></text>
<text x="283.60" y="221.60" font-family="Liberation Sans" font-size="10.3" font-weight="normal" text-anchor="start" fill="#000" stroke="#000" stroke-width="0.15" >T</text>
<text x="294.00" y="221.60" font-family="Liberation Sans" font-size="10.0" font-weight="normal" text-anchor="start" fill="#000" stroke="#000" stroke-width="0.15" >cells</text>
<text x="366.80" y="222.20" font-family="Liberation Sans" font-size="11.2" font-weight="bold" text-anchor="start" fill="#000" stroke="#000" stroke-width="0.2" >F</text>
<text x="399.20" y="221.90" font-family="Liberation Sans" font-size="10.55" font-weight="normal" text-anchor="start" fill="#000" stroke="#000" stroke-width="0.15" >HIV-infected</text>
<text x="459.50" y="221.90" font-family="Liberation Sans" font-size="10.3" font-weight="normal" text-anchor="start" fill="#000" stroke="#000" stroke-width="0.15" >T</text>
<text x="470.20" y="221.90" font-family="Liberation Sans" font-size="10.0" font-weight="normal" text-anchor="start" fill="#000" stroke="#000" stroke-width="0.15" >cells</text>
<line x1="41.20" y1="230.00" x2="164.00" y2="230.00" stroke="#333" stroke-width="1.2" />
<line x1="163.40" y1="230.00" x2="163.40" y2="344.40" stroke="#333" stroke-width="1.2" />
<line x1="41.20" y1="229.40" x2="41.20" y2="345.20" stroke="#000" stroke-width="1.9" />
<line x1="40.25" y1="344.40" x2="164.00" y2="344.40" stroke="#000" stroke-width="1.6" />
<line x1="37.25" y1="344.40" x2="40.25" y2="344.40" stroke="#000" stroke-width="1" />
<text x="33.70" y="346.20" font-family="Liberation Serif" font-size="5.5" font-weight="normal" text-anchor="end" fill="#666"  >0</text>
<line x1="38.65" y1="338.68" x2="40.25" y2="338.68" stroke="#000" stroke-width="0.9" />
<line x1="38.65" y1="332.96" x2="40.25" y2="332.96" stroke="#000" stroke-width="0.9" />
<line x1="38.65" y1="327.24" x2="40.25" y2="327.24" stroke="#000" stroke-width="0.9" />
<line x1="37.25" y1="321.52" x2="40.25" y2="321.52" stroke="#000" stroke-width="1" />
<text x="33.70" y="323.32" font-family="Liberation Serif" font-size="5.5" font-weight="normal" text-anchor="end" fill="#666"  >20</text>
<line x1="38.65" y1="315.80" x2="40.25" y2="315.80" stroke="#000" stroke-width="0.9" />
<line x1="38.65" y1="310.08" x2="40.25" y2="310.08" stroke="#000" stroke-width="0.9" />
<line x1="38.65" y1="304.36" x2="40.25" y2="304.36" stroke="#000" stroke-width="0.9" />
<line x1="37.25" y1="298.64" x2="40.25" y2="298.64" stroke="#000" stroke-width="1" />
<text x="33.70" y="300.44" font-family="Liberation Serif" font-size="5.5" font-weight="normal" text-anchor="end" fill="#666"  >40</text>
<line x1="38.65" y1="292.92" x2="40.25" y2="292.92" stroke="#000" stroke-width="0.9" />
<line x1="38.65" y1="287.20" x2="40.25" y2="287.20" stroke="#000" stroke-width="0.9" />
<line x1="38.65" y1="281.48" x2="40.25" y2="281.48" stroke="#000" stroke-width="0.9" />
<line x1="37.25" y1="275.76" x2="40.25" y2="275.76" stroke="#000" stroke-width="1" />
<text x="33.70" y="277.56" font-family="Liberation Serif" font-size="5.5" font-weight="normal" text-anchor="end" fill="#666"  >60</text>
<line x1="38.65" y1="270.04" x2="40.25" y2="270.04" stroke="#000" stroke-width="0.9" />
<line x1="38.65" y1="264.32" x2="40.25" y2="264.32" stroke="#000" stroke-width="0.9" />
<line x1="38.65" y1="258.60" x2="40.25" y2="258.60" stroke="#000" stroke-width="0.9" />
<line x1="37.25" y1="252.88" x2="40.25" y2="252.88" stroke="#000" stroke-width="1" />
<text x="33.70" y="254.68" font-family="Liberation Serif" font-size="5.5" font-weight="normal" text-anchor="end" fill="#666"  >80</text>
<line x1="38.65" y1="247.16" x2="40.25" y2="247.16" stroke="#000" stroke-width="0.9" />
<line x1="38.65" y1="241.44" x2="40.25" y2="241.44" stroke="#000" stroke-width="0.9" />
<line x1="38.65" y1="235.72" x2="40.25" y2="235.72" stroke="#000" stroke-width="0.9" />
<line x1="37.25" y1="230.00" x2="40.25" y2="230.00" stroke="#000" stroke-width="1" />
<text x="33.70" y="231.80" font-family="Liberation Serif" font-size="5.5" font-weight="normal" text-anchor="end" fill="#666"  >100</text>
<line x1="41.20" y1="344.70" x2="41.20" y2="347.20" stroke="#000" stroke-width="1" />
<line x1="50.40" y1="344.70" x2="50.40" y2="346.70" stroke="#000" stroke-width="0.8" />
<line x1="55.78" y1="344.70" x2="55.78" y2="346.70" stroke="#000" stroke-width="0.8" />
<line x1="59.59" y1="344.70" x2="59.59" y2="346.70" stroke="#000" stroke-width="0.8" />
<line x1="62.55" y1="344.70" x2="62.55" y2="346.70" stroke="#000" stroke-width="0.8" />
<line x1="64.97" y1="344.70" x2="64.97" y2="346.70" stroke="#000" stroke-width="0.8" />
<line x1="67.02" y1="344.70" x2="67.02" y2="346.70" stroke="#000" stroke-width="0.8" />
<line x1="68.79" y1="344.70" x2="68.79" y2="346.70" stroke="#000" stroke-width="0.8" />
<line x1="70.35" y1="344.70" x2="70.35" y2="346.70" stroke="#000" stroke-width="0.8" />
<text x="41.70" y="355.50" font-family="Liberation Sans" font-size="7.2" text-anchor="middle" fill="#222" stroke="#222" stroke-width="0.15">10<tspan font-size="6.4" dy="-2.7">0</tspan></text>
<line x1="71.75" y1="344.70" x2="71.75" y2="347.20" stroke="#000" stroke-width="1" />
<line x1="80.95" y1="344.70" x2="80.95" y2="346.70" stroke="#000" stroke-width="0.8" />
<line x1="86.33" y1="344.70" x2="86.33" y2="346.70" stroke="#000" stroke-width="0.8" />
<line x1="90.14" y1="344.70" x2="90.14" y2="346.70" stroke="#000" stroke-width="0.8" />
<line x1="93.10" y1="344.70" x2="93.10" y2="346.70" stroke="#000" stroke-width="0.8" />
<line x1="95.52" y1="344.70" x2="95.52" y2="346.70" stroke="#000" stroke-width="0.8" />
<line x1="97.57" y1="344.70" x2="97.57" y2="346.70" stroke="#000" stroke-width="0.8" />
<line x1="99.34" y1="344.70" x2="99.34" y2="346.70" stroke="#000" stroke-width="0.8" />
<line x1="100.90" y1="344.70" x2="100.90" y2="346.70" stroke="#000" stroke-width="0.8" />
<text x="72.25" y="355.50" font-family="Liberation Sans" font-size="7.2" text-anchor="middle" fill="#222" stroke="#222" stroke-width="0.15">10<tspan font-size="6.4" dy="-2.7">1</tspan></text>
<line x1="102.30" y1="344.70" x2="102.30" y2="347.20" stroke="#000" stroke-width="1" />
<line x1="111.50" y1="344.70" x2="111.50" y2="346.70" stroke="#000" stroke-width="0.8" />
<line x1="116.88" y1="344.70" x2="116.88" y2="346.70" stroke="#000" stroke-width="0.8" />
<line x1="120.69" y1="344.70" x2="120.69" y2="346.70" stroke="#000" stroke-width="0.8" />
<line x1="123.65" y1="344.70" x2="123.65" y2="346.70" stroke="#000" stroke-width="0.8" />
<line x1="126.07" y1="344.70" x2="126.07" y2="346.70" stroke="#000" stroke-width="0.8" />
<line x1="128.12" y1="344.70" x2="128.12" y2="346.70" stroke="#000" stroke-width="0.8" />
<line x1="129.89" y1="344.70" x2="129.89" y2="346.70" stroke="#000" stroke-width="0.8" />
<line x1="131.45" y1="344.70" x2="131.45" y2="346.70" stroke="#000" stroke-width="0.8" />
<text x="102.80" y="355.50" font-family="Liberation Sans" font-size="7.2" text-anchor="middle" fill="#222" stroke="#222" stroke-width="0.15">10<tspan font-size="6.4" dy="-2.7">2</tspan></text>
<line x1="132.85" y1="344.70" x2="132.85" y2="347.20" stroke="#000" stroke-width="1" />
<line x1="142.05" y1="344.70" x2="142.05" y2="346.70" stroke="#000" stroke-width="0.8" />
<line x1="147.43" y1="344.70" x2="147.43" y2="346.70" stroke="#000" stroke-width="0.8" />
<line x1="151.24" y1="344.70" x2="151.24" y2="346.70" stroke="#000" stroke-width="0.8" />
<line x1="154.20" y1="344.70" x2="154.20" y2="346.70" stroke="#000" stroke-width="0.8" />
<line x1="156.62" y1="344.70" x2="156.62" y2="346.70" stroke="#000" stroke-width="0.8" />
<line x1="158.67" y1="344.70" x2="158.67" y2="346.70" stroke="#000" stroke-width="0.8" />
<line x1="160.44" y1="344.70" x2="160.44" y2="346.70" stroke="#000" stroke-width="0.8" />
<line x1="162.00" y1="344.70" x2="162.00" y2="346.70" stroke="#000" stroke-width="0.8" />
<text x="133.35" y="355.50" font-family="Liberation Sans" font-size="7.2" text-anchor="middle" fill="#222" stroke="#222" stroke-width="0.15">10<tspan font-size="6.4" dy="-2.7">3</tspan></text>
<line x1="163.40" y1="344.70" x2="163.40" y2="347.20" stroke="#000" stroke-width="1" />
<text x="163.90" y="355.50" font-family="Liberation Sans" font-size="7.2" text-anchor="middle" fill="#222" stroke="#222" stroke-width="0.15">10<tspan font-size="6.4" dy="-2.7">4</tspan></text>
<line x1="217.00" y1="234.20" x2="337.10" y2="234.20" stroke="#333" stroke-width="1.2" />
<line x1="336.50" y1="234.20" x2="336.50" y2="348.80" stroke="#333" stroke-width="1.2" />
<line x1="217.00" y1="233.60" x2="217.00" y2="349.60" stroke="#000" stroke-width="1.9" />
<line x1="216.05" y1="348.80" x2="337.10" y2="348.80" stroke="#000" stroke-width="1.6" />
<line x1="213.05" y1="348.80" x2="216.05" y2="348.80" stroke="#000" stroke-width="1" />
<text x="209.50" y="350.60" font-family="Liberation Serif" font-size="5.5" font-weight="normal" text-anchor="end" fill="#666"  >0</text>
<line x1="214.45" y1="343.07" x2="216.05" y2="343.07" stroke="#000" stroke-width="0.9" />
<line x1="214.45" y1="337.34" x2="216.05" y2="337.34" stroke="#000" stroke-width="0.9" />
<line x1="214.45" y1="331.61" x2="216.05" y2="331.61" stroke="#000" stroke-width="0.9" />
<line x1="213.05" y1="325.88" x2="216.05" y2="325.88" stroke="#000" stroke-width="1" />
<text x="209.50" y="327.68" font-family="Liberation Serif" font-size="5.5" font-weight="normal" text-anchor="end" fill="#666"  >10</text>
<line x1="214.45" y1="320.15" x2="216.05" y2="320.15" stroke="#000" stroke-width="0.9" />
<line x1="214.45" y1="314.42" x2="216.05" y2="314.42" stroke="#000" stroke-width="0.9" />
<line x1="214.45" y1="308.69" x2="216.05" y2="308.69" stroke="#000" stroke-width="0.9" />
<line x1="213.05" y1="302.96" x2="216.05" y2="302.96" stroke="#000" stroke-width="1" />
<text x="209.50" y="304.76" font-family="Liberation Serif" font-size="5.5" font-weight="normal" text-anchor="end" fill="#666"  >20</text>
<line x1="214.45" y1="297.23" x2="216.05" y2="297.23" stroke="#000" stroke-width="0.9" />
<line x1="214.45" y1="291.50" x2="216.05" y2="291.50" stroke="#000" stroke-width="0.9" />
<line x1="214.45" y1="285.77" x2="216.05" y2="285.77" stroke="#000" stroke-width="0.9" />
<line x1="213.05" y1="280.04" x2="216.05" y2="280.04" stroke="#000" stroke-width="1" />
<text x="209.50" y="281.84" font-family="Liberation Serif" font-size="5.5" font-weight="normal" text-anchor="end" fill="#666"  >30</text>
<line x1="214.45" y1="274.31" x2="216.05" y2="274.31" stroke="#000" stroke-width="0.9" />
<line x1="214.45" y1="268.58" x2="216.05" y2="268.58" stroke="#000" stroke-width="0.9" />
<line x1="214.45" y1="262.85" x2="216.05" y2="262.85" stroke="#000" stroke-width="0.9" />
<line x1="213.05" y1="257.12" x2="216.05" y2="257.12" stroke="#000" stroke-width="1" />
<text x="209.50" y="258.92" font-family="Liberation Serif" font-size="5.5" font-weight="normal" text-anchor="end" fill="#666"  >40</text>
<line x1="214.45" y1="251.39" x2="216.05" y2="251.39" stroke="#000" stroke-width="0.9" />
<line x1="214.45" y1="245.66" x2="216.05" y2="245.66" stroke="#000" stroke-width="0.9" />
<line x1="214.45" y1="239.93" x2="216.05" y2="239.93" stroke="#000" stroke-width="0.9" />
<line x1="213.05" y1="234.20" x2="216.05" y2="234.20" stroke="#000" stroke-width="1" />
<text x="209.50" y="236.00" font-family="Liberation Serif" font-size="5.5" font-weight="normal" text-anchor="end" fill="#666"  >50</text>
<line x1="217.00" y1="349.10" x2="217.00" y2="351.60" stroke="#000" stroke-width="1" />
<line x1="225.99" y1="349.10" x2="225.99" y2="351.10" stroke="#000" stroke-width="0.8" />
<line x1="231.25" y1="349.10" x2="231.25" y2="351.10" stroke="#000" stroke-width="0.8" />
<line x1="234.99" y1="349.10" x2="234.99" y2="351.10" stroke="#000" stroke-width="0.8" />
<line x1="237.88" y1="349.10" x2="237.88" y2="351.10" stroke="#000" stroke-width="0.8" />
<line x1="240.25" y1="349.10" x2="240.25" y2="351.10" stroke="#000" stroke-width="0.8" />
<line x1="242.25" y1="349.10" x2="242.25" y2="351.10" stroke="#000" stroke-width="0.8" />
<line x1="243.98" y1="349.10" x2="243.98" y2="351.10" stroke="#000" stroke-width="0.8" />
<line x1="245.51" y1="349.10" x2="245.51" y2="351.10" stroke="#000" stroke-width="0.8" />
<text x="217.50" y="359.80" font-family="Liberation Sans" font-size="7.2" text-anchor="middle" fill="#222" stroke="#222" stroke-width="0.15">10<tspan font-size="6.4" dy="-2.7">0</tspan></text>
<line x1="246.88" y1="349.10" x2="246.88" y2="351.60" stroke="#000" stroke-width="1" />
<line x1="255.87" y1="349.10" x2="255.87" y2="351.10" stroke="#000" stroke-width="0.8" />
<line x1="261.13" y1="349.10" x2="261.13" y2="351.10" stroke="#000" stroke-width="0.8" />
<line x1="264.86" y1="349.10" x2="264.86" y2="351.10" stroke="#000" stroke-width="0.8" />
<line x1="267.76" y1="349.10" x2="267.76" y2="351.10" stroke="#000" stroke-width="0.8" />
<line x1="270.12" y1="349.10" x2="270.12" y2="351.10" stroke="#000" stroke-width="0.8" />
<line x1="272.12" y1="349.10" x2="272.12" y2="351.10" stroke="#000" stroke-width="0.8" />
<line x1="273.85" y1="349.10" x2="273.85" y2="351.10" stroke="#000" stroke-width="0.8" />
<line x1="275.38" y1="349.10" x2="275.38" y2="351.10" stroke="#000" stroke-width="0.8" />
<text x="247.38" y="359.80" font-family="Liberation Sans" font-size="7.2" text-anchor="middle" fill="#222" stroke="#222" stroke-width="0.15">10<tspan font-size="6.4" dy="-2.7">1</tspan></text>
<line x1="276.75" y1="349.10" x2="276.75" y2="351.60" stroke="#000" stroke-width="1" />
<line x1="285.74" y1="349.10" x2="285.74" y2="351.10" stroke="#000" stroke-width="0.8" />
<line x1="291.00" y1="349.10" x2="291.00" y2="351.10" stroke="#000" stroke-width="0.8" />
<line x1="294.74" y1="349.10" x2="294.74" y2="351.10" stroke="#000" stroke-width="0.8" />
<line x1="297.63" y1="349.10" x2="297.63" y2="351.10" stroke="#000" stroke-width="0.8" />
<line x1="300.00" y1="349.10" x2="300.00" y2="351.10" stroke="#000" stroke-width="0.8" />
<line x1="302.00" y1="349.10" x2="302.00" y2="351.10" stroke="#000" stroke-width="0.8" />
<line x1="303.73" y1="349.10" x2="303.73" y2="351.10" stroke="#000" stroke-width="0.8" />
<line x1="305.26" y1="349.10" x2="305.26" y2="351.10" stroke="#000" stroke-width="0.8" />
<text x="277.25" y="359.80" font-family="Liberation Sans" font-size="7.2" text-anchor="middle" fill="#222" stroke="#222" stroke-width="0.15">10<tspan font-size="6.4" dy="-2.7">2</tspan></text>
<line x1="306.62" y1="349.10" x2="306.62" y2="351.60" stroke="#000" stroke-width="1" />
<line x1="315.62" y1="349.10" x2="315.62" y2="351.10" stroke="#000" stroke-width="0.8" />
<line x1="320.88" y1="349.10" x2="320.88" y2="351.10" stroke="#000" stroke-width="0.8" />
<line x1="324.61" y1="349.10" x2="324.61" y2="351.10" stroke="#000" stroke-width="0.8" />
<line x1="327.51" y1="349.10" x2="327.51" y2="351.10" stroke="#000" stroke-width="0.8" />
<line x1="329.87" y1="349.10" x2="329.87" y2="351.10" stroke="#000" stroke-width="0.8" />
<line x1="331.87" y1="349.10" x2="331.87" y2="351.10" stroke="#000" stroke-width="0.8" />
<line x1="333.60" y1="349.10" x2="333.60" y2="351.10" stroke="#000" stroke-width="0.8" />
<line x1="335.13" y1="349.10" x2="335.13" y2="351.10" stroke="#000" stroke-width="0.8" />
<text x="307.12" y="359.80" font-family="Liberation Sans" font-size="7.2" text-anchor="middle" fill="#222" stroke="#222" stroke-width="0.15">10<tspan font-size="6.4" dy="-2.7">3</tspan></text>
<line x1="336.50" y1="349.10" x2="336.50" y2="351.60" stroke="#000" stroke-width="1" />
<text x="337.00" y="359.80" font-family="Liberation Sans" font-size="7.2" text-anchor="middle" fill="#222" stroke="#222" stroke-width="0.15">10<tspan font-size="6.4" dy="-2.7">4</tspan></text>
<line x1="379.70" y1="234.50" x2="502.10" y2="234.50" stroke="#333" stroke-width="1.2" />
<line x1="501.50" y1="234.50" x2="501.50" y2="351.30" stroke="#333" stroke-width="1.2" />
<line x1="379.70" y1="233.90" x2="379.70" y2="352.10" stroke="#000" stroke-width="1.9" />
<line x1="378.75" y1="351.30" x2="502.10" y2="351.30" stroke="#000" stroke-width="1.6" />
<line x1="375.75" y1="351.30" x2="378.75" y2="351.30" stroke="#000" stroke-width="1" />
<text x="372.20" y="353.10" font-family="Liberation Serif" font-size="5.5" font-weight="normal" text-anchor="end" fill="#666"  >0</text>
<line x1="377.15" y1="346.43" x2="378.75" y2="346.43" stroke="#000" stroke-width="0.9" />
<line x1="377.15" y1="341.57" x2="378.75" y2="341.57" stroke="#000" stroke-width="0.9" />
<line x1="377.15" y1="336.70" x2="378.75" y2="336.70" stroke="#000" stroke-width="0.9" />
<line x1="375.75" y1="331.83" x2="378.75" y2="331.83" stroke="#000" stroke-width="1" />
<text x="372.20" y="333.63" font-family="Liberation Serif" font-size="5.5" font-weight="normal" text-anchor="end" fill="#666"  >10</text>
<line x1="377.15" y1="326.97" x2="378.75" y2="326.97" stroke="#000" stroke-width="0.9" />
<line x1="377.15" y1="322.10" x2="378.75" y2="322.10" stroke="#000" stroke-width="0.9" />
<line x1="377.15" y1="317.23" x2="378.75" y2="317.23" stroke="#000" stroke-width="0.9" />
<line x1="375.75" y1="312.37" x2="378.75" y2="312.37" stroke="#000" stroke-width="1" />
<text x="372.20" y="314.17" font-family="Liberation Serif" font-size="5.5" font-weight="normal" text-anchor="end" fill="#666"  >20</text>
<line x1="377.15" y1="307.50" x2="378.75" y2="307.50" stroke="#000" stroke-width="0.9" />
<line x1="377.15" y1="302.63" x2="378.75" y2="302.63" stroke="#000" stroke-width="0.9" />
<line x1="377.15" y1="297.77" x2="378.75" y2="297.77" stroke="#000" stroke-width="0.9" />
<line x1="375.75" y1="292.90" x2="378.75" y2="292.90" stroke="#000" stroke-width="1" />
<text x="372.20" y="294.70" font-family="Liberation Serif" font-size="5.5" font-weight="normal" text-anchor="end" fill="#666"  >30</text>
<line x1="377.15" y1="288.03" x2="378.75" y2="288.03" stroke="#000" stroke-width="0.9" />
<line x1="377.15" y1="283.17" x2="378.75" y2="283.17" stroke="#000" stroke-width="0.9" />
<line x1="377.15" y1="278.30" x2="378.75" y2="278.30" stroke="#000" stroke-width="0.9" />
<line x1="375.75" y1="273.43" x2="378.75" y2="273.43" stroke="#000" stroke-width="1" />
<text x="372.20" y="275.23" font-family="Liberation Serif" font-size="5.5" font-weight="normal" text-anchor="end" fill="#666"  >40</text>
<line x1="377.15" y1="268.57" x2="378.75" y2="268.57" stroke="#000" stroke-width="0.9" />
<line x1="377.15" y1="263.70" x2="378.75" y2="263.70" stroke="#000" stroke-width="0.9" />
<line x1="377.15" y1="258.83" x2="378.75" y2="258.83" stroke="#000" stroke-width="0.9" />
<line x1="375.75" y1="253.97" x2="378.75" y2="253.97" stroke="#000" stroke-width="1" />
<text x="372.20" y="255.77" font-family="Liberation Serif" font-size="5.5" font-weight="normal" text-anchor="end" fill="#666"  >50</text>
<line x1="377.15" y1="249.10" x2="378.75" y2="249.10" stroke="#000" stroke-width="0.9" />
<line x1="377.15" y1="244.23" x2="378.75" y2="244.23" stroke="#000" stroke-width="0.9" />
<line x1="377.15" y1="239.37" x2="378.75" y2="239.37" stroke="#000" stroke-width="0.9" />
<line x1="375.75" y1="234.50" x2="378.75" y2="234.50" stroke="#000" stroke-width="1" />
<text x="372.20" y="236.30" font-family="Liberation Serif" font-size="5.5" font-weight="normal" text-anchor="end" fill="#666"  >60</text>
<line x1="379.70" y1="351.60" x2="379.70" y2="354.10" stroke="#000" stroke-width="1" />
<line x1="388.87" y1="351.60" x2="388.87" y2="353.60" stroke="#000" stroke-width="0.8" />
<line x1="394.23" y1="351.60" x2="394.23" y2="353.60" stroke="#000" stroke-width="0.8" />
<line x1="398.03" y1="351.60" x2="398.03" y2="353.60" stroke="#000" stroke-width="0.8" />
<line x1="400.98" y1="351.60" x2="400.98" y2="353.60" stroke="#000" stroke-width="0.8" />
<line x1="403.39" y1="351.60" x2="403.39" y2="353.60" stroke="#000" stroke-width="0.8" />
<line x1="405.43" y1="351.60" x2="405.43" y2="353.60" stroke="#000" stroke-width="0.8" />
<line x1="407.20" y1="351.60" x2="407.20" y2="353.60" stroke="#000" stroke-width="0.8" />
<line x1="408.76" y1="351.60" x2="408.76" y2="353.60" stroke="#000" stroke-width="0.8" />
<text x="380.20" y="362.60" font-family="Liberation Sans" font-size="7.2" text-anchor="middle" fill="#222" stroke="#222" stroke-width="0.15">10<tspan font-size="6.4" dy="-2.7">0</tspan></text>
<line x1="410.15" y1="351.60" x2="410.15" y2="354.10" stroke="#000" stroke-width="1" />
<line x1="419.32" y1="351.60" x2="419.32" y2="353.60" stroke="#000" stroke-width="0.8" />
<line x1="424.68" y1="351.60" x2="424.68" y2="353.60" stroke="#000" stroke-width="0.8" />
<line x1="428.48" y1="351.60" x2="428.48" y2="353.60" stroke="#000" stroke-width="0.8" />
<line x1="431.43" y1="351.60" x2="431.43" y2="353.60" stroke="#000" stroke-width="0.8" />
<line x1="433.84" y1="351.60" x2="433.84" y2="353.60" stroke="#000" stroke-width="0.8" />
<line x1="435.88" y1="351.60" x2="435.88" y2="353.60" stroke="#000" stroke-width="0.8" />
<line x1="437.65" y1="351.60" x2="437.65" y2="353.60" stroke="#000" stroke-width="0.8" />
<line x1="439.21" y1="351.60" x2="439.21" y2="353.60" stroke="#000" stroke-width="0.8" />
<text x="410.65" y="362.60" font-family="Liberation Sans" font-size="7.2" text-anchor="middle" fill="#222" stroke="#222" stroke-width="0.15">10<tspan font-size="6.4" dy="-2.7">1</tspan></text>
<line x1="440.60" y1="351.60" x2="440.60" y2="354.10" stroke="#000" stroke-width="1" />
<line x1="449.77" y1="351.60" x2="449.77" y2="353.60" stroke="#000" stroke-width="0.8" />
<line x1="455.13" y1="351.60" x2="455.13" y2="353.60" stroke="#000" stroke-width="0.8" />
<line x1="458.93" y1="351.60" x2="458.93" y2="353.60" stroke="#000" stroke-width="0.8" />
<line x1="461.88" y1="351.60" x2="461.88" y2="353.60" stroke="#000" stroke-width="0.8" />
<line x1="464.29" y1="351.60" x2="464.29" y2="353.60" stroke="#000" stroke-width="0.8" />
<line x1="466.33" y1="351.60" x2="466.33" y2="353.60" stroke="#000" stroke-width="0.8" />
<line x1="468.10" y1="351.60" x2="468.10" y2="353.60" stroke="#000" stroke-width="0.8" />
<line x1="469.66" y1="351.60" x2="469.66" y2="353.60" stroke="#000" stroke-width="0.8" />
<text x="441.10" y="362.60" font-family="Liberation Sans" font-size="7.2" text-anchor="middle" fill="#222" stroke="#222" stroke-width="0.15">10<tspan font-size="6.4" dy="-2.7">2</tspan></text>
<line x1="471.05" y1="351.60" x2="471.05" y2="354.10" stroke="#000" stroke-width="1" />
<line x1="480.22" y1="351.60" x2="480.22" y2="353.60" stroke="#000" stroke-width="0.8" />
<line x1="485.58" y1="351.60" x2="485.58" y2="353.60" stroke="#000" stroke-width="0.8" />
<line x1="489.38" y1="351.60" x2="489.38" y2="353.60" stroke="#000" stroke-width="0.8" />
<line x1="492.33" y1="351.60" x2="492.33" y2="353.60" stroke="#000" stroke-width="0.8" />
<line x1="494.74" y1="351.60" x2="494.74" y2="353.60" stroke="#000" stroke-width="0.8" />
<line x1="496.78" y1="351.60" x2="496.78" y2="353.60" stroke="#000" stroke-width="0.8" />
<line x1="498.55" y1="351.60" x2="498.55" y2="353.60" stroke="#000" stroke-width="0.8" />
<line x1="500.11" y1="351.60" x2="500.11" y2="353.60" stroke="#000" stroke-width="0.8" />
<text x="471.55" y="362.60" font-family="Liberation Sans" font-size="7.2" text-anchor="middle" fill="#222" stroke="#222" stroke-width="0.15">10<tspan font-size="6.4" dy="-2.7">3</tspan></text>
<line x1="501.50" y1="351.60" x2="501.50" y2="354.10" stroke="#000" stroke-width="1" />
<text x="502.00" y="362.60" font-family="Liberation Sans" font-size="7.2" text-anchor="middle" fill="#222" stroke="#222" stroke-width="0.15">10<tspan font-size="6.4" dy="-2.7">4</tspan></text>
<line x1="101.80" y1="245.10" x2="119.50" y2="245.10" stroke="#111" stroke-width="1" stroke-dasharray="2.4,1.5"/>
<line x1="101.80" y1="262.30" x2="119.50" y2="262.30" stroke="#111" stroke-width="1" />
<text x="124.90" y="247.40" font-family="Liberation Serif" font-size="6.1" font-weight="normal" text-anchor="start" fill="#222"  >Isotype control</text>
<text x="124.20" y="264.20" font-family="Liberation Serif" font-size="6.0" font-weight="normal" text-anchor="start" fill="#222"  >Anti-MICA/B</text>
<line x1="261.90" y1="247.30" x2="279.60" y2="247.30" stroke="#111" stroke-width="1" stroke-dasharray="2.4,1.5"/>
<line x1="261.90" y1="264.60" x2="279.60" y2="264.60" stroke="#111" stroke-width="1" />
<text x="284.60" y="249.60" font-family="Liberation Serif" font-size="6.1" font-weight="normal" text-anchor="start" fill="#222"  >Isotype control</text>
<text x="283.70" y="266.50" font-family="Liberation Serif" font-size="6.0" font-weight="normal" text-anchor="start" fill="#222"  >Anti-MICA/B</text>
<line x1="426.00" y1="249.70" x2="443.70" y2="249.70" stroke="#111" stroke-width="1" stroke-dasharray="2.4,1.5"/>
<line x1="426.00" y1="266.20" x2="443.70" y2="266.20" stroke="#111" stroke-width="1" />
<text x="448.90" y="252.00" font-family="Liberation Serif" font-size="6.1" font-weight="normal" text-anchor="start" fill="#222"  >Isotype control</text>
<text x="448.30" y="268.10" font-family="Liberation Serif" font-size="6.0" font-weight="normal" text-anchor="start" fill="#222"  >Anti-MICA/B</text>
<polyline points="41.5,323.8 41.9,323.1 42.3,323.1 42.7,322.5 43.0,323.2 43.1,321.3 43.5,320.2 43.9,319.5 44.3,317.7 44.7,315.7 45.1,313.0 45.5,308.8 45.5,309.9 45.9,308.8 46.3,306.8 46.7,301.7 47.1,301.0 47.5,301.2 47.9,298.3 48.0,297.8 48.3,295.9 48.7,292.9 49.1,292.5 49.5,289.6 49.9,287.2 50.0,287.2 50.3,287.3 50.7,285.0 51.1,279.9 51.5,281.6 51.8,280.0 51.9,279.5 52.3,281.9 52.7,282.4 53.1,280.0 53.1,282.0 53.5,281.4 53.9,276.6 54.3,276.0 54.3,274.6 54.7,272.0 55.1,267.5 55.5,268.5 55.9,263.9 56.1,266.2 56.3,265.4 56.7,265.6 57.1,265.7 57.5,264.2 57.5,265.7 57.9,267.9 58.3,270.1 58.7,269.6 59.1,269.6 59.3,270.3 59.5,273.8 59.9,276.6 60.3,274.7 60.7,278.0 61.1,281.7 61.5,282.5 61.8,284.8 61.9,286.7 62.3,292.4 62.7,295.6 63.1,301.5 63.1,302.0 63.5,303.3 63.9,306.3 64.3,309.2 64.7,311.1 65.1,313.4 65.1,312.7 65.5,314.7 65.9,316.0 66.3,318.1 66.7,321.7 66.9,322.7 67.1,325.0 67.5,326.8 67.9,329.4 68.2,330.3 68.3,331.1 68.7,332.7 69.1,333.7 69.5,336.3 69.9,336.7 70.2,337.7 70.3,337.2 70.7,338.7 71.1,338.6 71.5,339.7 71.9,338.4 71.9,339.0 72.3,338.2 72.7,338.4 73.0,337.0 73.1,337.6 73.5,339.1 73.9,340.2 74.0,340.1 74.3,340.8 74.7,341.7 75.1,340.5 75.5,342.3 75.9,344.4 76.0,344.4 76.3,344.4 76.7,344.4 77.1,344.1 77.5,344.4 77.9,343.7 78.3,344.4 78.7,343.8 79.1,344.4 79.5,344.3 79.9,344.1 80.3,343.7 80.7,343.7 81.1,344.4 81.5,344.4 81.9,343.5 82.3,344.4 82.7,344.4 83.1,343.8 83.5,344.1 83.9,344.4 84.3,344.4 84.7,343.7 85.1,344.4 85.5,344.4 85.9,344.4 86.3,343.7 86.7,344.4 87.1,344.3 87.5,344.4 87.9,344.2 88.3,344.1 88.7,344.4 89.1,344.2 89.5,344.3 89.9,343.7 90.0,344.4 90.3,344.4 90.7,344.4 91.1,344.4 91.5,343.7 91.9,344.2 92.3,344.4 92.7,344.4 93.1,344.0 93.5,344.4 93.9,344.4 94.3,344.1 94.7,344.2 95.1,344.4 95.5,344.4 95.9,343.7 96.3,343.7 96.7,344.4 97.1,344.4 97.5,343.6 97.9,344.1 98.3,344.4 98.7,344.4 99.1,344.3 99.5,343.9 99.9,344.4 100.3,343.9 100.7,344.4 101.1,344.4 101.5,344.4 101.9,344.4 102.3,344.4 102.7,344.4 103.1,344.4 103.5,343.8 103.9,344.4 104.3,343.9 104.7,344.4 105.1,344.3 105.5,344.4 105.9,343.8 106.3,344.4 106.7,344.4 107.1,343.5 107.5,343.6 107.9,344.4 108.3,343.9 108.7,343.7 109.1,344.1 109.5,343.7 109.9,343.8 110.3,344.4 110.7,344.0 111.1,342.3 111.5,344.4 111.9,344.4 112.3,344.3 112.7,344.4 113.1,344.4 113.5,344.4 113.9,343.2 114.3,344.4 114.7,344.0 115.1,344.4 115.5,344.4 115.9,344.4 116.3,344.4 116.7,343.6 117.1,344.4 117.5,344.4 117.9,344.4 118.3,343.2 118.7,344.2 119.1,344.4 119.5,344.2 119.9,344.4 120.3,344.4 120.7,343.6 121.1,344.4 121.5,344.4 121.9,344.4 122.3,344.4 122.7,344.4 123.1,343.7 123.5,343.4 123.9,344.3 124.3,344.4 124.7,344.4 125.1,344.4 125.5,344.4 125.9,344.4 126.3,343.3 126.7,343.8 127.1,344.4 127.5,344.4 127.9,344.3 128.3,344.4 128.7,344.0 129.1,343.9 129.5,344.4 129.9,344.4 130.3,344.4 130.7,344.4 131.1,344.4 131.5,343.3 131.9,344.4 132.3,344.0 132.7,343.7 133.1,343.4 133.5,344.4 133.9,344.4 134.3,344.4 134.7,343.6 135.1,343.7 135.5,344.4 135.9,344.4 136.3,344.2 136.7,343.2 137.1,344.4 137.5,343.7 137.9,344.4 138.3,344.4 138.7,343.9 139.1,344.4 139.5,344.4 139.9,343.6 140.3,344.0 140.7,344.4 141.1,343.9 141.5,344.1 141.9,344.1 142.3,344.4 142.7,344.4 143.1,344.4 143.5,344.4 143.9,343.9 144.3,344.4 144.7,344.3 145.1,344.4 145.5,344.4 145.9,344.4 146.3,344.1 146.7,344.4 147.1,344.4 147.5,343.7 147.9,343.6 148.3,343.9 148.7,343.5 149.1,344.3 149.5,344.4 149.9,343.7 150.3,344.1 150.7,344.4 151.1,344.4 151.5,344.3 151.9,343.1 152.3,344.4 152.7,344.4 153.1,344.4 153.5,344.4 153.9,344.4 154.3,344.4 154.7,344.4 155.1,344.4 155.5,344.4 155.9,344.2 156.3,344.3 156.7,344.4 157.1,344.4 157.5,343.9 157.9,344.2 158.3,344.4 158.7,344.4 159.1,344.4 159.5,344.3 159.9,344.4 160.3,344.1 160.7,344.3 161.1,344.3 161.5,343.9 161.9,343.9 162.0,344.4" fill="none" stroke="#222" stroke-width="1" stroke-linejoin="round" stroke-dasharray="2.2,1.4"/>
<polyline points="41.0,344.3 41.4,344.4 41.8,343.9 42.2,343.8 42.6,344.4 43.0,344.4 43.4,344.3 43.8,344.4 44.2,344.4 44.6,344.4 45.0,343.9 45.4,343.9 45.8,344.4 46.2,343.7 46.6,344.1 47.0,344.4 47.4,344.2 47.8,344.4 48.2,343.9 48.6,344.4 49.0,344.4 49.4,344.4 49.8,343.7 50.2,344.4 50.6,344.4 51.0,344.4 51.4,344.1 51.8,344.2 52.2,344.2 52.6,344.1 53.0,343.1 53.4,344.4 53.8,344.4 54.2,344.4 54.6,344.0 55.0,343.7 55.4,344.4 55.8,344.4 56.2,344.4 56.6,344.0 56.8,344.3 57.0,344.1 57.4,344.4 57.8,344.3 58.2,344.3 58.6,344.3 59.0,343.9 59.4,344.3 59.8,344.0 60.2,344.4 60.6,344.2 61.0,344.0 61.4,344.4 61.8,344.4 62.2,344.4 62.6,344.4 63.0,344.4 63.4,343.5 63.8,344.4 64.2,343.8 64.6,344.4 65.0,344.4 65.4,344.3 65.8,344.0 66.2,344.0 66.5,344.3 66.6,344.4 67.0,344.4 67.4,343.9 67.8,344.4 68.2,344.4 68.6,344.4 69.0,344.4 69.4,342.1 69.8,342.4 70.2,341.8 70.6,342.7 71.0,342.1 71.4,341.6 71.8,342.3 72.0,341.9 72.2,342.5 72.6,342.1 73.0,342.0 73.4,342.6 73.8,341.2 74.2,341.3 74.6,341.0 75.0,340.7 75.4,340.6 75.8,340.3 76.0,340.5 76.2,340.4 76.6,339.8 77.0,340.1 77.4,339.5 77.8,339.0 78.2,338.4 78.6,337.3 79.0,337.5 79.0,337.1 79.4,335.1 79.8,334.9 80.2,333.1 80.6,333.1 81.0,331.4 81.4,330.9 81.7,329.4 81.8,328.0 82.2,327.8 82.6,323.6 83.0,321.3 83.4,319.8 83.6,318.4 83.8,316.8 84.2,315.1 84.6,312.0 85.0,309.9 85.4,305.7 85.5,307.2 85.8,305.2 86.2,299.3 86.6,295.0 87.0,289.0 87.0,290.6 87.4,286.6 87.8,281.0 88.2,281.3 88.6,276.6 88.6,276.0 89.0,270.4 89.4,266.5 89.4,263.7 89.8,259.1 90.2,256.1 90.2,253.9 90.6,250.1 91.0,246.5 91.4,241.7 91.5,243.3 91.8,243.0 92.2,244.2 92.5,242.3 92.6,240.2 93.0,241.4 93.4,239.6 93.5,238.9 93.8,238.2 94.2,234.9 94.3,236.8 94.6,239.1 95.0,243.3 95.3,244.0 95.4,244.6 95.8,246.1 96.2,244.9 96.5,250.1 96.6,249.0 97.0,254.8 97.4,259.1 97.8,261.6 98.1,262.4 98.2,259.0 98.6,267.7 99.0,268.1 99.4,274.5 99.7,275.0 99.8,275.8 100.2,280.6 100.6,284.3 101.0,289.1 101.3,290.8 101.4,292.7 101.8,297.7 102.2,301.8 102.6,303.9 102.9,306.5 103.0,307.6 103.4,310.6 103.8,312.9 104.2,314.6 104.5,317.9 104.6,319.2 105.0,320.7 105.4,324.4 105.8,326.5 106.0,329.3 106.2,330.9 106.6,332.2 107.0,331.3 107.4,332.5 107.8,335.0 108.0,335.6 108.2,335.0 108.6,337.1 109.0,337.7 109.4,337.5 109.8,338.7 110.2,339.2 110.6,339.9 110.8,340.2 111.0,339.7 111.4,340.4 111.8,340.4 112.2,341.6 112.6,341.0 113.0,341.4 113.4,341.7 113.8,342.3 114.2,342.0 114.6,341.0 115.0,343.2 115.0,342.0 115.4,342.5 115.8,342.4 116.2,341.3 116.6,341.8 117.0,341.2 117.4,342.6 117.8,343.1 118.2,344.4 118.6,344.3 119.0,344.3 119.4,344.4 119.8,344.3 120.2,344.3 120.3,343.9 120.6,343.3 121.0,344.4 121.4,344.4 121.8,344.4 122.2,344.4 122.6,344.2 123.0,343.7 123.4,344.4 123.8,344.4 124.2,344.4 124.6,344.4 125.0,344.4 125.4,344.4 125.8,344.4 126.0,344.4 126.2,344.4 126.6,344.4 127.0,340.4 127.4,343.1 127.8,342.6 128.2,340.6 128.5,340.7 128.6,341.6 129.0,342.1 129.4,342.1 129.8,343.4 130.0,344.4 130.2,344.4 130.6,343.9 131.0,344.1 131.4,344.4 131.8,344.4 132.2,344.4 132.6,344.4 133.0,344.4 133.4,344.3 133.8,344.4 134.2,344.1 134.6,343.8 135.0,344.3 135.4,344.2 135.8,344.4 136.2,344.4 136.6,344.4 137.0,344.2 137.4,344.4 137.8,343.1 138.2,343.5 138.6,344.2 139.0,344.4 139.4,344.4 139.8,343.7 140.2,344.2 140.6,344.1 141.0,344.4 141.4,343.8 141.8,344.1 142.2,344.4 142.6,344.4 143.0,344.2 143.4,344.4 143.8,344.4 144.2,344.4 144.6,344.4 145.0,344.3 145.4,343.5 145.8,344.4 146.2,344.4 146.6,344.3 147.0,344.2 147.4,344.4 147.8,344.4 148.2,344.2 148.6,343.4 149.0,344.4 149.4,343.9 149.8,344.4 150.2,344.4 150.6,344.4 151.0,344.4 151.4,343.6 151.8,344.1 152.2,343.4 152.6,343.7 153.0,344.1 153.4,343.4 153.8,344.1 154.2,343.9 154.6,344.4 155.0,344.4 155.4,344.4 155.8,343.8 156.2,344.4 156.6,343.9 157.0,344.4 157.4,343.7 157.8,343.9 158.2,343.3 158.6,344.0 159.0,344.4 159.4,344.4 159.8,344.4 160.2,344.4 160.6,343.5 161.0,344.0 161.4,344.4 161.8,344.4 162.0,344.4" fill="none" stroke="#000" stroke-width="1.8" stroke-linejoin="round" />
<polyline points="217.2,300.4 217.5,287.2 217.8,274.9 217.9,268.3 218.2,263.2 218.5,256.1 218.6,256.3 218.9,242.3 219.2,245.4 219.3,248.6 219.6,243.3 220.0,238.9 220.0,239.7 220.3,234.5 220.7,239.3 221.0,239.7 221.0,234.5 221.4,238.6 221.7,239.9 222.0,242.7 222.1,245.5 222.4,235.4 222.8,245.9 223.0,240.7 223.1,245.1 223.5,237.8 223.8,244.0 224.0,246.8 224.2,243.9 224.5,240.2 224.9,251.2 225.0,248.9 225.2,247.9 225.6,250.2 225.8,253.2 225.9,257.9 226.2,262.0 226.3,259.9 226.6,270.1 227.0,265.9 227.0,267.5 227.3,264.1 227.7,280.2 228.0,275.3 228.0,276.5 228.4,273.3 228.7,283.7 229.0,282.5 229.1,282.7 229.4,286.9 229.8,292.5 229.8,294.8 230.1,291.9 230.5,301.7 230.5,299.7 230.8,301.2 231.2,307.8 231.5,309.6 231.5,313.7 231.9,312.9 232.2,316.1 232.6,320.4 232.9,321.0 233.0,320.6 233.3,320.2 233.6,325.8 234.0,329.3 234.3,329.4 234.5,330.2 234.7,327.0 235.0,329.9 235.4,334.0 235.7,336.9 236.0,336.1 236.1,336.9 236.4,340.2 236.8,338.5 237.1,341.8 237.5,339.5 237.8,341.2 238.0,342.3 238.2,342.9 238.5,344.8 238.9,341.7 239.2,343.6 239.6,343.6 239.9,343.6 240.3,345.4 240.6,345.9 241.0,346.7 241.0,345.9 241.3,347.2 241.7,346.8 242.0,346.1 242.4,346.4 242.7,347.4 243.1,348.1 243.4,347.6 243.8,348.4 244.1,348.0 244.5,348.1 244.8,348.8 245.0,348.7 245.2,348.6 245.5,347.8 245.9,348.8 246.2,348.0 246.6,348.6 246.9,348.8 247.3,347.2 247.6,347.6 248.0,348.8 248.3,348.7 248.7,348.3 249.0,348.1 249.4,348.8 249.7,348.5 250.1,348.7 250.4,348.8 250.8,348.3 251.1,348.8 251.5,348.8 251.8,348.8 252.2,348.5 252.5,348.5 252.9,348.8 253.2,348.8 253.6,348.8 253.9,348.6 254.3,348.7 254.6,348.8 255.0,348.1 255.0,348.8 255.3,348.8 255.7,347.8 256.0,348.8 256.4,348.8 256.7,348.6 257.1,348.8 257.4,348.8 257.8,348.8 258.1,348.8 258.5,348.8 258.8,348.8 259.2,348.3 259.5,347.6 259.9,348.7 260.2,348.7 260.6,348.5 260.9,348.8 261.3,348.8 261.6,348.8 262.0,348.7 262.3,348.8 262.7,348.8 263.0,348.8 263.4,348.8 263.7,348.8 264.1,348.8 264.4,348.8 264.8,348.8 265.1,348.8 265.5,347.8 265.8,348.8 266.2,348.4 266.5,347.6 266.9,348.6 267.2,348.8 267.6,348.8 267.9,348.8 268.3,348.0 268.6,348.8 269.0,348.8 269.3,348.8 269.7,348.7 270.0,348.8 270.4,348.3 270.7,348.4 271.1,348.8 271.4,348.8 271.8,348.4 272.1,348.7 272.5,348.8 272.8,348.8 273.2,348.8 273.5,348.8 273.9,348.7 274.2,348.8 274.6,348.2 274.9,348.8 275.3,348.8 275.6,348.8 276.0,348.0 276.3,348.8 276.7,348.8 277.0,347.7 277.4,348.8 277.7,348.8 278.1,347.9 278.4,348.8 278.8,348.8 279.1,348.5 279.5,348.8 279.8,348.8 280.2,348.8 280.5,348.8 280.9,348.1 281.2,348.8 281.6,348.6 281.9,348.8 282.3,348.8 282.6,348.8 283.0,348.8 283.3,348.4 283.7,348.8 284.0,348.3 284.4,348.4 284.7,348.8 285.1,348.8 285.4,348.2 285.8,347.5 286.1,347.8 286.5,347.9 286.8,348.8 287.2,347.7 287.5,348.7 287.9,348.8 288.2,348.6 288.6,348.0 288.9,348.8 289.3,348.3 289.6,348.8 290.0,348.7 290.3,348.8 290.7,348.3 291.0,348.7 291.4,348.8 291.7,348.8 292.1,348.8 292.4,348.4 292.8,348.8 293.1,348.3 293.5,348.0 293.8,348.6 294.2,348.8 294.5,348.5 294.9,348.4 295.2,348.2 295.6,348.6 295.9,347.9 296.3,347.8 296.6,348.7 297.0,348.3 297.3,347.5 297.7,348.3 298.0,348.5 298.4,347.5 298.7,348.8 299.1,347.9 299.4,348.8 299.8,348.8 300.1,348.2 300.5,347.8 300.8,348.8 301.2,348.4 301.5,348.1 301.9,348.8 302.2,348.6 302.6,348.3 302.9,348.8 303.3,348.8 303.6,348.8 304.0,348.8 304.3,348.8 304.7,348.5 305.0,348.6 305.4,348.4 305.7,348.3 306.1,348.3 306.4,348.8 306.8,348.8 307.1,348.8 307.5,347.8 307.8,348.2 308.2,348.8 308.5,348.8 308.9,348.3 309.2,348.8 309.6,348.8 309.9,348.8 310.3,348.8 310.6,348.0 311.0,348.8 311.3,348.0 311.7,348.6 312.0,348.8 312.4,348.3 312.7,348.8 313.1,348.7 313.4,348.7 313.8,347.4 314.1,348.8 314.5,348.6 314.8,348.8 315.2,348.8 315.5,348.4 315.9,347.7 316.2,348.0 316.6,348.8 316.9,348.8 317.3,348.8 317.6,348.8 318.0,348.1 318.3,348.2 318.7,348.7 319.0,348.8 319.4,348.8 319.7,348.8 320.1,348.8 320.4,348.8 320.8,348.8 321.1,348.8 321.5,348.4 321.8,348.8 322.2,348.8 322.5,348.8 322.9,348.2 323.2,348.8 323.6,348.0 323.9,348.8 324.3,348.8 324.6,348.8 325.0,348.8 325.3,348.5 325.7,348.8 326.0,348.8 326.4,348.8 326.7,348.1 327.1,348.8 327.4,348.7 327.8,348.8 328.1,347.6 328.5,348.8 328.8,348.8 329.2,348.0 329.5,348.8 329.9,348.8 330.2,348.8 330.6,348.8 330.9,348.8 331.3,348.4 331.6,348.8 332.0,348.1 332.3,348.8 332.7,348.8 333.0,348.0 333.4,348.7 333.7,348.5 334.1,348.3 334.4,348.8 334.8,348.8 335.1,348.6 335.5,348.0 335.8,348.6 336.0,348.8" fill="none" stroke="#222" stroke-width="1" stroke-linejoin="round" stroke-dasharray="2.2,1.4"/>
<polyline points="217.3,290.7 217.7,269.6 217.8,262.1 218.0,251.9 218.3,235.6 218.3,234.5 218.7,234.5 219.0,234.5 219.0,238.8 219.4,234.5 219.7,236.8 220.0,234.9 220.1,234.5 220.4,241.4 220.8,234.5 221.0,235.3 221.1,238.9 221.5,237.1 221.8,236.4 222.0,236.9 222.2,234.5 222.5,242.3 222.9,237.6 223.0,235.6 223.2,239.2 223.6,245.3 223.9,241.6 224.0,241.0 224.3,238.1 224.6,239.2 225.0,234.5 225.0,235.8 225.3,234.5 225.7,242.6 226.0,242.8 226.0,236.9 226.4,236.7 226.7,234.5 227.0,234.8 227.1,236.3 227.4,236.8 227.8,234.5 228.0,237.8 228.1,237.6 228.5,235.8 228.8,234.5 229.0,234.5 229.2,239.9 229.5,235.0 229.6,244.8 229.8,262.0 229.9,265.2 230.2,267.5 230.5,273.5 230.6,279.3 230.9,283.1 231.3,289.6 231.3,289.4 231.6,297.5 232.0,299.9 232.1,302.1 232.3,304.0 232.7,308.6 233.0,309.8 233.0,308.2 233.4,312.0 233.7,313.6 233.9,316.9 234.1,316.7 234.4,319.9 234.8,324.9 234.8,324.0 235.1,328.1 235.5,329.8 235.6,331.0 235.8,331.9 236.2,333.5 236.5,335.8 236.9,335.9 237.0,337.4 237.2,337.8 237.6,341.5 237.9,341.3 238.3,340.8 238.3,341.6 238.6,341.7 239.0,343.3 239.3,344.3 239.7,344.4 240.0,344.0 240.0,344.4 240.4,343.2 240.7,343.5 241.1,344.6 241.4,346.1 241.8,345.8 241.8,346.2 242.1,345.8 242.5,345.1 242.8,344.2 243.0,344.1 243.2,344.1 243.5,345.6 243.9,344.8 244.2,344.1 244.6,344.3 244.9,345.8 245.3,344.8 245.3,345.0 245.6,346.3 246.0,345.9 246.3,346.0 246.7,348.8 247.0,348.5 247.0,348.8 247.4,348.7 247.7,348.5 248.1,348.5 248.4,348.8 248.8,348.5 249.1,348.6 249.5,347.4 249.8,348.0 250.0,348.8 250.2,348.0 250.5,348.8 250.9,348.6 251.2,347.8 251.6,348.8 251.9,348.2 252.3,348.5 252.6,348.8 253.0,348.3 253.3,348.8 253.7,348.3 254.0,348.8 254.4,348.2 254.7,348.8 255.1,348.5 255.4,348.3 255.8,348.8 256.1,347.8 256.5,348.8 256.8,347.5 257.2,347.6 257.5,348.8 257.9,347.8 258.2,348.6 258.6,348.6 258.9,348.6 259.3,348.8 259.6,348.8 260.0,348.8 260.3,348.5 260.7,348.8 261.0,348.8 261.4,348.2 261.7,348.8 262.1,348.5 262.4,348.5 262.8,348.8 263.1,348.6 263.5,348.3 263.8,348.8 264.2,348.4 264.5,348.8 264.9,348.8 265.2,348.8 265.6,348.8 265.9,348.4 266.3,348.6 266.6,348.8 267.0,348.8 267.3,348.6 267.7,348.5 268.0,347.6 268.4,348.8 268.7,348.7 269.1,348.8 269.4,348.8 269.8,348.8 270.1,348.5 270.5,348.8 270.8,347.8 271.2,348.5 271.5,348.8 271.9,348.2 272.2,348.8 272.6,348.2 272.9,348.6 273.3,348.5 273.6,348.8 274.0,348.8 274.3,348.6 274.7,348.7 275.0,348.4 275.4,347.7 275.7,348.8 276.1,348.8 276.4,348.4 276.8,348.8 277.1,347.9 277.5,348.8 277.8,348.8 278.2,348.6 278.5,348.8 278.9,348.8 279.2,348.3 279.6,348.8 279.9,348.6 280.3,348.8 280.6,348.8 281.0,348.2 281.3,348.6 281.7,348.4 282.0,348.8 282.4,348.0 282.7,348.5 283.1,348.8 283.4,348.0 283.8,348.8 284.1,348.1 284.5,348.8 284.8,348.5 285.2,348.1 285.5,348.8 285.9,348.6 286.2,348.4 286.6,348.8 286.9,347.7 287.3,348.8 287.6,348.5 288.0,348.7 288.3,348.3 288.7,348.8 289.0,348.8 289.4,348.3 289.7,348.8 290.1,348.3 290.4,348.8 290.8,348.1 291.1,348.4 291.5,348.8 291.8,348.8 292.2,348.8 292.5,348.8 292.9,348.4 293.2,348.5 293.6,348.2 293.9,348.8 294.3,348.8 294.6,348.8 295.0,348.8 295.3,348.8 295.7,348.6 296.0,348.0 296.4,348.8 296.7,348.8 297.1,347.9 297.4,348.8 297.8,348.2 298.1,348.8 298.5,348.5 298.8,348.8 299.2,348.4 299.5,348.7 299.9,348.8 300.2,348.8 300.6,348.8 300.9,348.2 301.3,348.8 301.6,348.2 302.0,348.8 302.3,348.8 302.7,348.0 303.0,348.8 303.4,348.8 303.7,348.8 304.1,348.7 304.4,348.2 304.8,348.2 305.1,348.8 305.5,348.8 305.8,348.8 306.2,348.8 306.5,348.8 306.9,348.8 307.2,348.8 307.6,348.8 307.9,348.8 308.3,348.5 308.6,348.6 309.0,348.1 309.3,348.8 309.7,348.7 310.0,348.1 310.4,348.8 310.7,348.8 311.1,348.8 311.4,348.7 311.8,348.8 312.1,348.4 312.5,348.8 312.8,348.8 313.2,348.7 313.5,348.8 313.9,348.8 314.2,347.9 314.6,348.8 314.9,348.8 315.3,348.7 315.6,348.8 316.0,348.8 316.3,348.8 316.7,348.7 317.0,348.8 317.4,348.8 317.7,348.8 318.1,347.9 318.4,348.6 318.8,348.4 319.1,348.1 319.5,348.3 319.8,348.8 320.2,348.8 320.5,347.2 320.9,348.8 321.2,348.8 321.6,348.3 321.9,348.6 322.3,348.2 322.6,348.8 323.0,348.8 323.3,348.8 323.7,348.8 324.0,347.6 324.4,348.8 324.7,348.8 325.1,348.8 325.4,348.5 325.8,347.8 326.1,348.6 326.5,348.8 326.8,348.5 327.2,348.4 327.5,348.8 327.9,347.8 328.2,348.8 328.6,348.8 328.9,348.3 329.3,348.3 329.6,348.8 330.0,348.7 330.3,348.8 330.7,348.8 331.0,348.8 331.4,348.8 331.7,348.7 332.1,348.8 332.4,348.8 332.8,348.8 333.1,348.5 333.5,348.8 333.8,348.8 334.2,348.6 334.5,348.3 334.9,348.8 335.2,348.4 335.6,348.8 335.9,348.4 336.0,348.6" fill="none" stroke="#000" stroke-width="1.6" stroke-linejoin="round" />
<polyline points="379.8,330.5 380.1,332.7 380.4,325.0 380.7,331.6 381.0,328.8 381.0,324.7 381.3,323.0 381.6,328.4 381.9,326.1 382.2,312.6 382.5,323.2 382.5,323.9 382.8,316.7 383.1,317.5 383.4,313.2 383.7,315.5 384.0,318.5 384.0,317.5 384.3,319.8 384.6,313.9 384.9,314.7 385.2,321.5 385.5,314.0 385.8,319.0 386.1,314.9 386.4,316.4 386.7,313.2 387.0,317.3 387.0,312.1 387.3,319.3 387.6,307.3 387.9,316.8 388.2,313.1 388.5,313.2 388.8,308.0 389.1,303.5 389.4,306.6 389.7,306.9 390.0,305.8 390.0,306.5 390.3,304.8 390.6,307.7 390.9,304.0 391.2,295.2 391.5,296.0 391.8,309.1 392.0,300.3 392.1,298.6 392.4,301.1 392.7,300.6 393.0,296.2 393.3,289.5 393.5,292.3 393.6,293.1 393.9,287.0 394.2,290.2 394.5,285.7 394.8,287.3 395.1,293.1 395.4,286.4 395.5,281.3 395.7,273.7 396.0,276.5 396.3,263.9 396.6,268.8 396.9,272.2 397.0,272.8 397.2,256.1 397.5,269.8 397.8,273.5 398.0,264.2 398.1,267.7 398.4,257.6 398.7,269.7 399.0,255.1 399.0,250.1 399.3,257.1 399.6,259.2 399.9,249.2 400.2,245.5 400.2,252.1 400.5,248.1 400.8,237.2 401.0,243.7 401.1,245.3 401.4,240.4 401.7,240.1 402.0,240.9 402.0,241.0 402.3,261.3 402.6,242.7 402.9,239.0 403.0,244.5 403.2,249.5 403.5,235.0 403.8,237.7 404.0,249.8 404.1,247.9 404.4,250.0 404.7,252.0 405.0,237.7 405.3,237.1 405.5,245.5 405.6,245.6 405.9,243.4 406.2,250.3 406.5,247.9 406.5,247.5 406.8,248.7 407.1,262.9 407.4,245.2 407.5,258.7 407.7,255.5 408.0,249.1 408.3,257.6 408.6,265.1 408.9,264.4 409.0,264.5 409.2,254.8 409.5,261.8 409.8,272.0 410.0,263.5 410.1,271.3 410.4,267.8 410.7,284.1 411.0,275.1 411.0,271.1 411.3,277.6 411.6,286.3 411.9,278.9 412.0,287.8 412.2,280.4 412.5,292.0 412.8,294.4 413.0,295.4 413.1,294.3 413.4,287.6 413.7,298.3 414.0,308.4 414.3,300.3 414.5,304.4 414.6,305.7 414.9,307.0 415.2,305.8 415.5,302.0 415.8,308.7 416.0,310.6 416.1,314.2 416.4,315.2 416.7,314.9 417.0,313.1 417.3,314.8 417.6,313.2 417.9,326.4 418.2,315.9 418.5,317.4 418.8,330.2 419.0,320.7 419.1,322.4 419.4,328.8 419.7,323.5 420.0,330.0 420.3,327.5 420.6,326.0 420.9,325.3 421.2,326.8 421.5,331.8 421.8,339.0 422.0,333.6 422.1,332.5 422.4,331.9 422.7,334.5 423.0,338.7 423.3,337.6 423.6,340.2 423.9,338.2 424.2,343.4 424.5,339.9 424.8,338.7 425.0,341.8 425.1,338.6 425.4,347.0 425.7,340.5 426.0,344.9 426.3,343.4 426.6,342.4 426.9,342.1 427.2,347.3 427.5,343.8 427.8,347.8 428.1,344.7 428.4,345.8 428.7,345.1 429.0,346.5 429.0,346.6 429.3,348.1 429.6,346.3 429.9,345.3 430.2,345.8 430.5,347.1 430.8,345.3 431.1,346.3 431.4,345.5 431.7,346.9 432.0,347.9 432.3,347.0 432.6,346.3 432.9,348.2 433.2,347.7 433.5,349.2 433.8,346.5 434.1,349.7 434.4,351.3 434.7,347.4 435.0,349.7 435.0,346.8 435.3,350.2 435.6,351.2 435.9,350.7 436.2,348.1 436.5,350.0 436.8,348.1 437.1,350.9 437.4,347.9 437.7,349.1 438.0,349.1 438.3,344.0 438.6,351.3 438.9,348.1 439.2,351.3 439.5,350.1 439.8,351.2 440.1,351.3 440.4,351.3 440.7,351.3 441.0,351.0 441.3,351.3 441.6,350.8 441.9,351.3 442.2,351.3 442.5,351.3 442.8,351.3 443.1,350.7 443.4,349.5 443.7,351.3 444.0,351.3 444.3,351.3 444.6,351.0 444.9,351.3 445.0,350.8 445.2,351.3 445.5,351.1 445.8,351.3 446.1,350.8 446.4,350.3 446.7,351.3 447.0,351.2 447.3,351.3 447.6,350.3 447.9,350.9 448.2,351.3 448.5,351.3 448.8,350.8 449.1,351.3 449.4,351.2 449.7,351.3 450.0,351.3 450.3,351.0 450.6,351.3 450.9,350.8 451.2,351.3 451.5,351.3 451.8,351.3 452.1,351.0 452.4,351.3 452.7,350.5 453.0,351.3 453.3,351.3 453.6,350.4 453.9,351.3 454.2,350.4 454.5,351.3 454.8,349.7 455.1,351.3 455.4,350.5 455.7,350.3 456.0,350.5 456.3,351.3 456.6,350.6 456.9,351.3 457.2,351.2 457.5,350.5 457.8,350.7 458.1,350.9 458.4,350.9 458.7,350.9 459.0,351.3 459.3,351.3 459.6,351.2 459.9,351.3 460.2,351.3 460.5,351.3 460.8,351.0 461.1,351.3 461.4,351.3 461.7,351.2 462.0,351.3 462.3,351.3 462.6,351.1 462.9,351.3 463.2,351.2 463.5,351.1 463.8,351.1 464.1,351.3 464.4,351.3 464.7,351.0 465.0,350.2 465.3,350.5 465.6,351.3 465.9,351.3 466.2,351.3 466.5,351.3 466.8,351.3 467.1,351.0 467.4,351.2 467.7,350.5 468.0,351.2 468.3,351.0 468.6,351.3 468.9,351.3 469.2,351.3 469.5,350.7 469.8,351.3 470.1,351.3 470.4,351.3 470.7,351.3 471.0,351.3 471.3,351.0 471.6,349.9 471.9,351.3 472.2,351.3 472.5,351.3 472.8,350.9 473.1,350.2 473.4,351.3 473.7,350.0 474.0,351.1 474.3,351.3 474.6,351.2 474.9,351.3 475.2,351.3 475.5,351.3 475.8,351.3 476.1,351.3 476.4,351.3 476.7,351.3 477.0,350.9 477.3,351.3 477.6,351.3 477.9,351.3 478.2,351.3 478.5,351.3 478.8,350.6 479.1,351.3 479.4,351.3 479.7,351.3 480.0,351.3 480.3,351.2 480.6,351.3 480.9,351.3 481.2,351.3 481.5,351.1 481.8,351.3 482.1,351.1 482.4,351.3 482.7,351.3 483.0,351.2 483.3,350.7 483.6,351.3 483.9,351.3 484.2,351.3 484.5,351.3 484.8,351.3 485.1,351.3 485.4,351.3 485.7,350.7 486.0,351.0 486.3,351.3 486.6,351.1 486.9,350.8 487.2,350.5 487.5,350.4 487.8,351.3 488.1,351.1 488.4,351.3 488.7,350.2 489.0,350.5 489.3,351.3 489.6,351.3 489.9,351.3 490.2,351.3 490.5,351.3 490.8,351.3 491.1,351.3 491.4,351.3 491.7,351.3 492.0,351.3 492.3,351.3 492.6,351.3 492.9,351.3 493.2,350.6 493.5,350.7 493.8,351.3 494.1,350.9 494.4,351.3 494.7,351.3 495.0,351.3 495.3,350.8 495.6,351.3 495.9,351.3 496.2,350.8 496.5,350.9 496.8,350.9 497.1,351.3 497.4,351.3 497.7,351.3 498.0,351.3 498.3,351.3 498.6,351.3 498.9,351.3 499.2,351.3 499.5,350.1 499.8,350.9 500.1,350.7 500.4,350.4 500.7,351.2 501.0,351.3 501.0,350.1" fill="none" stroke="#222" stroke-width="1" stroke-linejoin="round" stroke-dasharray="2.2,1.4"/>
<polyline points="379.8,337.8 380.1,340.1 380.4,336.5 380.7,335.5 381.0,334.2 381.0,334.3 381.3,333.1 381.6,337.8 381.9,334.2 382.0,330.2 382.2,332.4 382.5,328.5 382.8,320.8 383.1,327.8 383.4,322.5 383.7,318.8 383.9,320.0 384.0,319.9 384.3,317.2 384.6,322.0 384.9,306.2 385.2,317.0 385.5,317.1 385.5,316.2 385.8,323.9 386.1,315.1 386.4,319.0 386.7,312.9 386.9,316.0 387.0,314.4 387.3,319.0 387.6,317.4 387.9,315.6 388.2,312.7 388.5,312.7 388.5,307.5 388.8,313.8 389.1,310.4 389.4,305.0 389.7,312.4 390.0,301.3 390.3,310.7 390.6,307.5 390.8,310.2 390.9,305.8 391.2,304.3 391.5,305.1 391.8,314.4 392.1,304.7 392.4,308.1 392.5,304.5 392.7,313.7 393.0,306.3 393.3,300.2 393.6,301.7 393.9,300.1 394.2,294.6 394.5,292.8 394.8,298.5 394.8,294.7 395.1,291.6 395.4,301.3 395.7,304.5 395.8,293.6 396.0,286.1 396.3,280.8 396.6,292.8 396.7,281.0 396.9,272.1 397.2,284.5 397.5,280.4 397.8,277.2 397.9,273.9 398.1,274.2 398.4,272.5 398.7,269.8 398.7,279.4 399.0,262.1 399.3,267.1 399.5,263.5 399.6,266.3 399.9,266.3 400.2,256.2 400.3,257.1 400.5,261.7 400.8,246.0 401.1,243.6 401.2,248.2 401.4,253.8 401.7,246.7 402.0,242.8 402.0,245.5 402.3,240.2 402.6,234.8 402.8,234.8 402.9,245.2 403.2,240.3 403.5,250.8 403.5,244.6 403.8,246.3 404.1,246.1 404.4,247.8 404.5,246.1 404.7,246.3 405.0,246.8 405.3,250.0 405.3,246.4 405.6,234.8 405.9,248.2 406.1,240.2 406.2,245.7 406.5,236.3 406.8,242.8 407.0,248.1 407.1,252.4 407.4,249.8 407.7,250.8 407.7,260.2 408.0,262.0 408.3,251.3 408.6,258.5 408.9,256.5 409.0,258.4 409.2,263.6 409.5,266.6 409.8,256.2 410.1,261.9 410.2,262.9 410.4,260.8 410.7,262.9 411.0,266.7 411.0,272.9 411.3,282.2 411.6,265.9 411.8,275.6 411.9,273.2 412.2,280.7 412.5,284.8 412.5,273.0 412.8,289.5 413.1,285.8 413.4,292.8 413.5,297.4 413.7,294.3 414.0,297.9 414.3,301.5 414.6,303.9 414.9,302.3 415.2,306.0 415.5,304.2 415.5,312.3 415.8,307.2 416.1,306.4 416.4,313.6 416.7,307.9 417.0,309.7 417.3,317.7 417.5,315.4 417.6,311.0 417.9,314.6 418.2,320.2 418.5,320.9 418.8,319.8 419.0,316.9 419.1,321.7 419.4,318.1 419.7,317.6 420.0,326.1 420.3,318.2 420.5,321.3 420.6,326.1 420.9,331.1 421.2,325.5 421.5,329.1 421.5,329.3 421.8,331.7 422.1,331.7 422.4,336.8 422.4,335.3 422.7,338.1 423.0,334.1 423.3,340.1 423.6,339.1 423.9,338.5 424.2,344.1 424.4,340.5 424.5,339.6 424.8,336.6 425.1,338.6 425.4,339.1 425.7,339.1 426.0,340.5 426.3,342.8 426.4,343.7 426.6,346.0 426.9,341.5 427.2,346.4 427.5,346.5 427.8,343.7 428.1,345.9 428.4,344.6 428.5,345.8 428.7,345.3 429.0,347.3 429.3,345.3 429.6,346.8 429.9,345.1 430.2,347.5 430.3,347.7 430.5,348.2 430.8,346.3 431.1,347.3 431.4,347.7 431.7,347.8 432.0,347.2 432.3,349.1 432.6,347.7 432.9,345.7 433.2,351.3 433.5,349.5 433.8,350.7 434.1,348.7 434.4,348.7 434.7,349.5 435.0,349.5 435.0,351.3 435.3,351.3 435.6,350.3 435.9,350.9 436.2,350.6 436.5,351.3 436.8,350.9 437.1,351.3 437.4,351.3 437.7,351.2 438.0,351.3 438.3,350.8 438.6,351.3 438.9,350.0 439.2,350.9 439.5,351.3 439.8,351.3 440.1,351.2 440.4,351.3 440.7,350.6 441.0,351.3 441.3,351.3 441.6,351.3 441.9,351.1 442.2,351.3 442.5,351.3 442.8,351.3 443.1,351.2 443.4,351.3 443.7,351.2 444.0,350.8 444.3,350.9 444.6,350.7 444.9,351.3 445.0,351.1 445.2,351.2 445.5,351.3 445.8,351.3 446.1,350.2 446.4,351.0 446.7,351.3 447.0,351.3 447.3,351.3 447.6,350.1 447.9,351.2 448.2,350.2 448.5,351.3 448.8,351.3 449.1,351.3 449.4,351.3 449.7,351.3 450.0,351.3 450.3,350.9 450.6,350.8 450.9,351.3 451.2,351.3 451.5,351.3 451.8,351.3 452.1,351.2 452.4,351.3 452.7,351.2 453.0,351.3 453.3,351.3 453.6,351.3 453.9,351.0 454.2,351.3 454.5,351.2 454.8,351.3 455.1,351.3 455.4,351.3 455.7,351.3 456.0,350.9 456.3,351.3 456.6,351.0 456.9,351.3 457.2,351.2 457.5,351.3 457.8,351.1 458.1,351.3 458.4,351.3 458.7,351.3 459.0,350.5 459.3,351.3 459.6,351.3 459.9,350.6 460.2,351.3 460.5,351.3 460.8,351.3 461.1,350.9 461.4,351.3 461.7,351.3 462.0,350.7 462.3,351.3 462.6,351.3 462.9,351.3 463.2,351.3 463.5,350.4 463.8,350.7 464.1,351.3 464.4,351.3 464.7,351.3 465.0,350.9 465.3,351.3 465.6,351.3 465.9,350.8 466.2,351.3 466.5,350.8 466.8,351.3 467.1,350.9 467.4,351.3 467.7,351.3 468.0,351.3 468.3,350.8 468.6,351.2 468.9,351.3 469.2,351.3 469.5,350.5 469.8,351.1 470.1,351.3 470.4,351.3 470.7,351.3 471.0,351.3 471.3,350.4 471.6,350.7 471.9,351.3 472.2,351.3 472.5,350.3 472.8,351.3 473.1,351.3 473.4,350.9 473.7,351.3 474.0,351.3 474.3,350.8 474.6,351.1 474.9,350.8 475.2,351.3 475.5,351.1 475.8,350.6 476.1,351.3 476.4,351.3 476.7,350.9 477.0,350.7 477.3,351.3 477.6,350.9 477.9,350.4 478.2,351.3 478.5,350.3 478.8,351.0 479.1,350.1 479.4,351.3 479.7,350.2 480.0,351.3 480.3,350.6 480.6,350.9 480.9,351.3 481.2,350.4 481.5,351.3 481.8,351.3 482.1,350.0 482.4,351.1 482.7,351.3 483.0,351.3 483.3,350.1 483.6,351.3 483.9,351.2 484.2,351.3 484.5,350.8 484.8,351.1 485.1,351.3 485.4,351.3 485.7,351.2 486.0,351.3 486.3,350.1 486.6,350.8 486.9,350.9 487.2,350.8 487.5,351.1 487.8,351.0 488.1,351.1 488.4,351.3 488.7,350.8 489.0,350.8 489.3,351.1 489.6,351.1 489.9,351.3 490.2,351.3 490.5,351.3 490.8,351.0 491.1,351.3 491.4,351.3 491.7,351.3 492.0,351.3 492.3,351.0 492.6,351.1 492.9,350.7 493.2,350.4 493.5,351.3 493.8,351.3 494.1,351.3 494.4,350.8 494.7,351.3 495.0,351.3 495.3,350.9 495.6,351.3 495.9,351.0 496.2,351.2 496.5,350.4 496.8,351.3 497.1,351.0 497.4,350.9 497.7,350.5 498.0,351.3 498.3,351.3 498.6,351.3 498.9,351.3 499.2,351.3 499.5,351.3 499.8,351.2 500.1,350.9 500.4,351.2 500.7,351.1 501.0,351.3 501.0,351.3" fill="none" stroke="#000" stroke-width="1.4" stroke-linejoin="round" />
<circle cx="447" cy="349.6" r="0.8" fill="#000"/>
<circle cx="452.5" cy="349.4" r="0.8" fill="#000"/>
<circle cx="458" cy="349.9" r="0.8" fill="#000"/>
<circle cx="466" cy="349.7" r="0.8" fill="#000"/>
<circle cx="478.1" cy="347.4" r="0.8" fill="#000"/>
<circle cx="489" cy="349.8" r="0.8" fill="#000"/>
<polygon points="218.0,235.0 223.8,235.0 223.9,237.8 222.8,239.7 222.0,242.5 223.4,245.2 222.2,247.4 222.0,249.3 222.4,251.5 223.2,253.8 222.2,256.5 221.2,259.5 221.9,261.3 220.6,262.8 221.3,265.1 221.4,268.0 221.0,270.2 219.9,272.1 221.2,273.9 220.4,275.7 221.2,277.2 220.0,278.9 220.2,281.8 220.3,284.5 219.0,287.1 219.7,289.5 218.0,292.0" fill="#000"/>
<g transform="translate(22.9,340.3) rotate(-90)"><text x="0" y="0" font-family="Liberation Sans" font-size="8.8" fill="#000" stroke="#000" stroke-width="0.2">Relative number of cells</text></g>
<line x1="19.20" y1="343.40" x2="19.20" y2="361.00" stroke="#333" stroke-width="1" />
<line x1="19.20" y1="233.00" x2="19.20" y2="245.30" stroke="#333" stroke-width="1" />
<polygon points="19.1,227.2 16.4,233 21.9,233" fill="#000"/>
<line x1="33.30" y1="376.50" x2="208.50" y2="376.50" stroke="#555" stroke-width="1" />
<line x1="325.00" y1="376.60" x2="497.00" y2="376.60" stroke="#555" stroke-width="1" />
<polygon points="500.5,376.6 495.2,373.8 495.2,379.4" fill="#000"/>
<text x="240.80" y="378.30" font-family="Liberation Sans" font-size="10.3" font-weight="normal" text-anchor="start" fill="#000"  stroke="#000" stroke-width="0.25">MICA/MICB</text>
</svg>
</body></html>
